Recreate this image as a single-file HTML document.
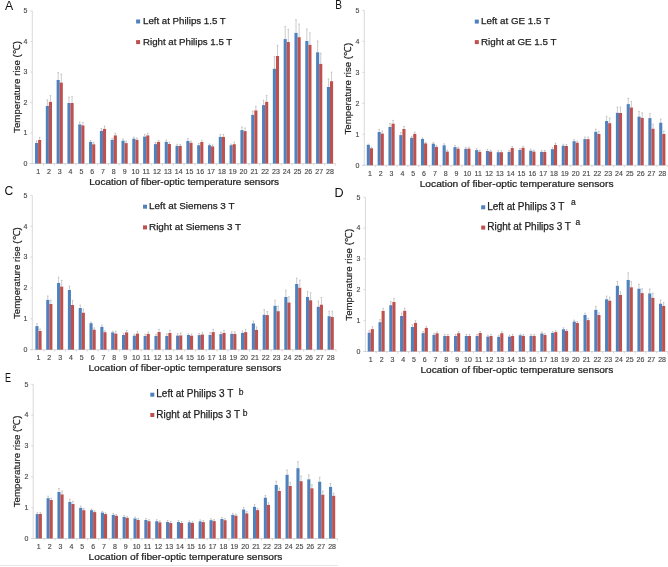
<!DOCTYPE html>
<html><head><meta charset="utf-8"><style>
html,body{margin:0;padding:0;background:#fff;width:668px;height:567px;overflow:hidden}
svg{display:block;filter:blur(0.45px)}
text{font-family:"Liberation Sans", sans-serif}
.tk{font-size:7px;fill:#4A4A4A;stroke:#4A4A4A;stroke-width:0.15px}
.lg{font-size:9.7px;fill:#1E1E1E;stroke:#1E1E1E;stroke-width:0.25px}
.sup{font-size:8.5px;fill:#1E1E1E;stroke:#1E1E1E;stroke-width:0.2px}
.xt{font-size:10px;fill:#1E1E1E;stroke:#1E1E1E;stroke-width:0.25px}
.yt{font-size:9.7px;fill:#1E1E1E;stroke:#1E1E1E;stroke-width:0.2px}
.pl{font-size:13.6px;fill:#111}
</style></head><body>
<svg width="668" height="567" viewBox="0 0 668 567">
<rect width="668" height="567" fill="#fff"/>
<line x1="32.3" y1="11" x2="32.3" y2="163.6" stroke="#D0D0D0" stroke-width="0.8"/>
<line x1="30.3" y1="163.6" x2="335.41" y2="163.6" stroke="#D0D0D0" stroke-width="0.8"/>
<line x1="30.3" y1="163.6" x2="32.3" y2="163.6" stroke="#D0D0D0" stroke-width="0.8"/>
<text x="27.4" y="165.9" text-anchor="end" class="tk">0</text>
<line x1="30.3" y1="133.08" x2="32.3" y2="133.08" stroke="#D0D0D0" stroke-width="0.8"/>
<text x="27.4" y="135.38" text-anchor="end" class="tk">1</text>
<line x1="30.3" y1="102.56" x2="32.3" y2="102.56" stroke="#D0D0D0" stroke-width="0.8"/>
<text x="27.4" y="104.86" text-anchor="end" class="tk">2</text>
<line x1="30.3" y1="72.04" x2="32.3" y2="72.04" stroke="#D0D0D0" stroke-width="0.8"/>
<text x="27.4" y="74.34" text-anchor="end" class="tk">3</text>
<line x1="30.3" y1="41.52" x2="32.3" y2="41.52" stroke="#D0D0D0" stroke-width="0.8"/>
<text x="27.4" y="43.82" text-anchor="end" class="tk">4</text>
<line x1="30.3" y1="11" x2="32.3" y2="11" stroke="#D0D0D0" stroke-width="0.8"/>
<text x="27.4" y="13.3" text-anchor="end" class="tk">5</text>
<line x1="43.51" y1="163.6" x2="43.51" y2="165.6" stroke="#D0D0D0" stroke-width="0.8"/>
<line x1="54.32" y1="163.6" x2="54.32" y2="165.6" stroke="#D0D0D0" stroke-width="0.8"/>
<line x1="65.13" y1="163.6" x2="65.13" y2="165.6" stroke="#D0D0D0" stroke-width="0.8"/>
<line x1="75.94" y1="163.6" x2="75.94" y2="165.6" stroke="#D0D0D0" stroke-width="0.8"/>
<line x1="86.75" y1="163.6" x2="86.75" y2="165.6" stroke="#D0D0D0" stroke-width="0.8"/>
<line x1="97.56" y1="163.6" x2="97.56" y2="165.6" stroke="#D0D0D0" stroke-width="0.8"/>
<line x1="108.37" y1="163.6" x2="108.37" y2="165.6" stroke="#D0D0D0" stroke-width="0.8"/>
<line x1="119.18" y1="163.6" x2="119.18" y2="165.6" stroke="#D0D0D0" stroke-width="0.8"/>
<line x1="129.99" y1="163.6" x2="129.99" y2="165.6" stroke="#D0D0D0" stroke-width="0.8"/>
<line x1="140.81" y1="163.6" x2="140.81" y2="165.6" stroke="#D0D0D0" stroke-width="0.8"/>
<line x1="151.62" y1="163.6" x2="151.62" y2="165.6" stroke="#D0D0D0" stroke-width="0.8"/>
<line x1="162.43" y1="163.6" x2="162.43" y2="165.6" stroke="#D0D0D0" stroke-width="0.8"/>
<line x1="173.24" y1="163.6" x2="173.24" y2="165.6" stroke="#D0D0D0" stroke-width="0.8"/>
<line x1="184.05" y1="163.6" x2="184.05" y2="165.6" stroke="#D0D0D0" stroke-width="0.8"/>
<line x1="194.86" y1="163.6" x2="194.86" y2="165.6" stroke="#D0D0D0" stroke-width="0.8"/>
<line x1="205.67" y1="163.6" x2="205.67" y2="165.6" stroke="#D0D0D0" stroke-width="0.8"/>
<line x1="216.48" y1="163.6" x2="216.48" y2="165.6" stroke="#D0D0D0" stroke-width="0.8"/>
<line x1="227.29" y1="163.6" x2="227.29" y2="165.6" stroke="#D0D0D0" stroke-width="0.8"/>
<line x1="238.11" y1="163.6" x2="238.11" y2="165.6" stroke="#D0D0D0" stroke-width="0.8"/>
<line x1="248.92" y1="163.6" x2="248.92" y2="165.6" stroke="#D0D0D0" stroke-width="0.8"/>
<line x1="259.73" y1="163.6" x2="259.73" y2="165.6" stroke="#D0D0D0" stroke-width="0.8"/>
<line x1="270.54" y1="163.6" x2="270.54" y2="165.6" stroke="#D0D0D0" stroke-width="0.8"/>
<line x1="281.35" y1="163.6" x2="281.35" y2="165.6" stroke="#D0D0D0" stroke-width="0.8"/>
<line x1="292.16" y1="163.6" x2="292.16" y2="165.6" stroke="#D0D0D0" stroke-width="0.8"/>
<line x1="302.97" y1="163.6" x2="302.97" y2="165.6" stroke="#D0D0D0" stroke-width="0.8"/>
<line x1="313.78" y1="163.6" x2="313.78" y2="165.6" stroke="#D0D0D0" stroke-width="0.8"/>
<line x1="324.59" y1="163.6" x2="324.59" y2="165.6" stroke="#D0D0D0" stroke-width="0.8"/>
<line x1="335.41" y1="163.6" x2="335.41" y2="165.6" stroke="#D0D0D0" stroke-width="0.8"/>
<rect x="35" y="143" width="3.1" height="20.6" fill="#4F81BD"/>
<rect x="38.1" y="140" width="3.1" height="23.6" fill="#C0504D"/>
<path d="M36.55 143V140.9M35.75 140.9H37.35" stroke="#A8A8A8" stroke-width="0.6" fill="none"/>
<path d="M39.65 140V137.4M38.85 137.4H40.45" stroke="#A8A8A8" stroke-width="0.6" fill="none"/>
<text x="38.1" y="173.9" text-anchor="middle" class="tk">1</text>
<rect x="45.81" y="105.9" width="3.1" height="57.7" fill="#4F81BD"/>
<rect x="48.91" y="101.9" width="3.1" height="61.7" fill="#C0504D"/>
<path d="M47.36 105.9V99.8M46.56 99.8H48.16" stroke="#A8A8A8" stroke-width="0.6" fill="none"/>
<path d="M50.46 101.9V95.6M49.66 95.6H51.26" stroke="#A8A8A8" stroke-width="0.6" fill="none"/>
<text x="48.91" y="173.9" text-anchor="middle" class="tk">2</text>
<rect x="56.62" y="80" width="3.1" height="83.6" fill="#4F81BD"/>
<rect x="59.72" y="82.6" width="3.1" height="81" fill="#C0504D"/>
<path d="M58.17 80V72.4M57.37 72.4H58.97" stroke="#A8A8A8" stroke-width="0.6" fill="none"/>
<path d="M61.27 82.6V74.1M60.47 74.1H62.07" stroke="#A8A8A8" stroke-width="0.6" fill="none"/>
<text x="59.72" y="173.9" text-anchor="middle" class="tk">3</text>
<rect x="67.43" y="103" width="3.1" height="60.6" fill="#4F81BD"/>
<rect x="70.53" y="103" width="3.1" height="60.6" fill="#C0504D"/>
<path d="M68.98 103V97M68.18 97H69.78" stroke="#A8A8A8" stroke-width="0.6" fill="none"/>
<path d="M72.08 103V96.7M71.28 96.7H72.88" stroke="#A8A8A8" stroke-width="0.6" fill="none"/>
<text x="70.53" y="173.9" text-anchor="middle" class="tk">4</text>
<rect x="78.24" y="124.4" width="3.1" height="39.2" fill="#4F81BD"/>
<rect x="81.34" y="125.4" width="3.1" height="38.2" fill="#C0504D"/>
<path d="M79.79 124.4V122M78.99 122H80.59" stroke="#A8A8A8" stroke-width="0.6" fill="none"/>
<path d="M82.89 125.4V122.4M82.09 122.4H83.69" stroke="#A8A8A8" stroke-width="0.6" fill="none"/>
<text x="81.34" y="173.9" text-anchor="middle" class="tk">5</text>
<rect x="89.06" y="141.9" width="3.1" height="21.7" fill="#4F81BD"/>
<rect x="92.16" y="144.3" width="3.1" height="19.3" fill="#C0504D"/>
<path d="M90.61 141.9V140.6M89.81 140.6H91.41" stroke="#A8A8A8" stroke-width="0.6" fill="none"/>
<path d="M93.71 144.3V142.4M92.91 142.4H94.51" stroke="#A8A8A8" stroke-width="0.6" fill="none"/>
<text x="92.16" y="173.9" text-anchor="middle" class="tk">6</text>
<rect x="99.87" y="130.9" width="3.1" height="32.7" fill="#4F81BD"/>
<rect x="102.97" y="128.9" width="3.1" height="34.7" fill="#C0504D"/>
<path d="M101.42 130.9V128.5M100.62 128.5H102.22" stroke="#A8A8A8" stroke-width="0.6" fill="none"/>
<path d="M104.52 128.9V126.1M103.72 126.1H105.32" stroke="#A8A8A8" stroke-width="0.6" fill="none"/>
<text x="102.97" y="173.9" text-anchor="middle" class="tk">7</text>
<rect x="110.68" y="139.9" width="3.1" height="23.7" fill="#4F81BD"/>
<rect x="113.78" y="135.4" width="3.1" height="28.2" fill="#C0504D"/>
<path d="M112.23 139.9V138.4M111.43 138.4H113.03" stroke="#A8A8A8" stroke-width="0.6" fill="none"/>
<path d="M115.33 135.4V133.2M114.53 133.2H116.13" stroke="#A8A8A8" stroke-width="0.6" fill="none"/>
<text x="113.78" y="173.9" text-anchor="middle" class="tk">8</text>
<rect x="121.49" y="140.7" width="3.1" height="22.9" fill="#4F81BD"/>
<rect x="124.59" y="143.1" width="3.1" height="20.5" fill="#C0504D"/>
<path d="M123.04 140.7V139M122.24 139H123.84" stroke="#A8A8A8" stroke-width="0.6" fill="none"/>
<path d="M126.14 143.1V141.1M125.34 141.1H126.94" stroke="#A8A8A8" stroke-width="0.6" fill="none"/>
<text x="124.59" y="173.9" text-anchor="middle" class="tk">9</text>
<rect x="132.3" y="138.7" width="3.1" height="24.9" fill="#4F81BD"/>
<rect x="135.4" y="139.9" width="3.1" height="23.7" fill="#C0504D"/>
<path d="M133.85 138.7V137.2M133.05 137.2H134.65" stroke="#A8A8A8" stroke-width="0.6" fill="none"/>
<path d="M136.95 139.9V138M136.15 138H137.75" stroke="#A8A8A8" stroke-width="0.6" fill="none"/>
<text x="135.4" y="173.9" text-anchor="middle" class="tk">10</text>
<rect x="143.11" y="136.6" width="3.1" height="27" fill="#4F81BD"/>
<rect x="146.21" y="135.4" width="3.1" height="28.2" fill="#C0504D"/>
<path d="M144.66 136.6V134.4M143.86 134.4H145.46" stroke="#A8A8A8" stroke-width="0.6" fill="none"/>
<path d="M147.76 135.4V133.2M146.96 133.2H148.56" stroke="#A8A8A8" stroke-width="0.6" fill="none"/>
<text x="146.21" y="173.9" text-anchor="middle" class="tk">11</text>
<rect x="153.92" y="144.1" width="3.1" height="19.5" fill="#4F81BD"/>
<rect x="157.02" y="141.9" width="3.1" height="21.7" fill="#C0504D"/>
<path d="M155.47 144.1V142.5M154.67 142.5H156.27" stroke="#A8A8A8" stroke-width="0.6" fill="none"/>
<path d="M158.57 141.9V140.4M157.77 140.4H159.37" stroke="#A8A8A8" stroke-width="0.6" fill="none"/>
<text x="157.02" y="173.9" text-anchor="middle" class="tk">12</text>
<rect x="164.73" y="141.9" width="3.1" height="21.7" fill="#4F81BD"/>
<rect x="167.83" y="144" width="3.1" height="19.6" fill="#C0504D"/>
<path d="M166.28 141.9V140.1M165.48 140.1H167.08" stroke="#A8A8A8" stroke-width="0.6" fill="none"/>
<path d="M169.38 144V142.3M168.58 142.3H170.18" stroke="#A8A8A8" stroke-width="0.6" fill="none"/>
<text x="167.83" y="173.9" text-anchor="middle" class="tk">13</text>
<rect x="175.54" y="145.9" width="3.1" height="17.7" fill="#4F81BD"/>
<rect x="178.64" y="145.9" width="3.1" height="17.7" fill="#C0504D"/>
<path d="M177.09 145.9V144.3M176.29 144.3H177.89" stroke="#A8A8A8" stroke-width="0.6" fill="none"/>
<path d="M180.19 145.9V144.3M179.39 144.3H180.99" stroke="#A8A8A8" stroke-width="0.6" fill="none"/>
<text x="178.64" y="173.9" text-anchor="middle" class="tk">14</text>
<rect x="186.36" y="141" width="3.1" height="22.6" fill="#4F81BD"/>
<rect x="189.46" y="142.8" width="3.1" height="20.8" fill="#C0504D"/>
<path d="M187.91 141V138.6M187.11 138.6H188.71" stroke="#A8A8A8" stroke-width="0.6" fill="none"/>
<path d="M191.01 142.8V141.1M190.21 141.1H191.81" stroke="#A8A8A8" stroke-width="0.6" fill="none"/>
<text x="189.46" y="173.9" text-anchor="middle" class="tk">15</text>
<rect x="197.17" y="145.2" width="3.1" height="18.4" fill="#4F81BD"/>
<rect x="200.27" y="142" width="3.1" height="21.6" fill="#C0504D"/>
<path d="M198.72 145.2V143.5M197.92 143.5H199.52" stroke="#A8A8A8" stroke-width="0.6" fill="none"/>
<path d="M201.82 142V140.3M201.02 140.3H202.62" stroke="#A8A8A8" stroke-width="0.6" fill="none"/>
<text x="200.27" y="173.9" text-anchor="middle" class="tk">16</text>
<rect x="207.98" y="145.2" width="3.1" height="18.4" fill="#4F81BD"/>
<rect x="211.08" y="146.4" width="3.1" height="17.2" fill="#C0504D"/>
<path d="M209.53 145.2V144M208.73 144H210.33" stroke="#A8A8A8" stroke-width="0.6" fill="none"/>
<path d="M212.63 146.4V144.9M211.83 144.9H213.43" stroke="#A8A8A8" stroke-width="0.6" fill="none"/>
<text x="211.08" y="173.9" text-anchor="middle" class="tk">17</text>
<rect x="218.79" y="136.9" width="3.1" height="26.7" fill="#4F81BD"/>
<rect x="221.89" y="136.9" width="3.1" height="26.7" fill="#C0504D"/>
<path d="M220.34 136.9V134.4M219.54 134.4H221.14" stroke="#A8A8A8" stroke-width="0.6" fill="none"/>
<path d="M223.44 136.9V134.4M222.64 134.4H224.24" stroke="#A8A8A8" stroke-width="0.6" fill="none"/>
<text x="221.89" y="173.9" text-anchor="middle" class="tk">18</text>
<rect x="229.6" y="145.2" width="3.1" height="18.4" fill="#4F81BD"/>
<rect x="232.7" y="144.2" width="3.1" height="19.4" fill="#C0504D"/>
<path d="M231.15 145.2V144.2M230.35 144.2H231.95" stroke="#A8A8A8" stroke-width="0.6" fill="none"/>
<path d="M234.25 144.2V142.1M233.45 142.1H235.05" stroke="#A8A8A8" stroke-width="0.6" fill="none"/>
<text x="232.7" y="173.9" text-anchor="middle" class="tk">19</text>
<rect x="240.41" y="130.1" width="3.1" height="33.5" fill="#4F81BD"/>
<rect x="243.51" y="131.1" width="3.1" height="32.5" fill="#C0504D"/>
<path d="M241.96 130.1V127M241.16 127H242.76" stroke="#A8A8A8" stroke-width="0.6" fill="none"/>
<path d="M245.06 131.1V128M244.26 128H245.86" stroke="#A8A8A8" stroke-width="0.6" fill="none"/>
<text x="243.51" y="173.9" text-anchor="middle" class="tk">20</text>
<rect x="251.22" y="114.9" width="3.1" height="48.7" fill="#4F81BD"/>
<rect x="254.32" y="110.4" width="3.1" height="53.2" fill="#C0504D"/>
<path d="M252.77 114.9V111.1M251.97 111.1H253.57" stroke="#A8A8A8" stroke-width="0.6" fill="none"/>
<path d="M255.87 110.4V106.2M255.07 106.2H256.67" stroke="#A8A8A8" stroke-width="0.6" fill="none"/>
<text x="254.32" y="173.9" text-anchor="middle" class="tk">21</text>
<rect x="262.03" y="105.1" width="3.1" height="58.5" fill="#4F81BD"/>
<rect x="265.13" y="101.8" width="3.1" height="61.8" fill="#C0504D"/>
<path d="M263.58 105.1V100.2M262.78 100.2H264.38" stroke="#A8A8A8" stroke-width="0.6" fill="none"/>
<path d="M266.68 101.8V95.4M265.88 95.4H267.48" stroke="#A8A8A8" stroke-width="0.6" fill="none"/>
<text x="265.13" y="173.9" text-anchor="middle" class="tk">22</text>
<rect x="272.84" y="68.8" width="3.1" height="94.8" fill="#4F81BD"/>
<rect x="275.94" y="56" width="3.1" height="107.6" fill="#C0504D"/>
<path d="M274.39 68.8V56.6M273.59 56.6H275.19" stroke="#A8A8A8" stroke-width="0.6" fill="none"/>
<path d="M277.49 56V45.3M276.69 45.3H278.29" stroke="#A8A8A8" stroke-width="0.6" fill="none"/>
<text x="275.94" y="173.9" text-anchor="middle" class="tk">23</text>
<rect x="283.66" y="39.1" width="3.1" height="124.5" fill="#4F81BD"/>
<rect x="286.76" y="42" width="3.1" height="121.6" fill="#C0504D"/>
<path d="M285.21 39.1V26.5M284.41 26.5H286.01" stroke="#A8A8A8" stroke-width="0.6" fill="none"/>
<path d="M288.31 42V29.4M287.51 29.4H289.11" stroke="#A8A8A8" stroke-width="0.6" fill="none"/>
<text x="286.76" y="173.9" text-anchor="middle" class="tk">24</text>
<rect x="294.47" y="32.9" width="3.1" height="130.7" fill="#4F81BD"/>
<rect x="297.57" y="37.2" width="3.1" height="126.4" fill="#C0504D"/>
<path d="M296.02 32.9V19.7M295.22 19.7H296.82" stroke="#A8A8A8" stroke-width="0.6" fill="none"/>
<path d="M299.12 37.2V24M298.32 24H299.92" stroke="#A8A8A8" stroke-width="0.6" fill="none"/>
<text x="297.57" y="173.9" text-anchor="middle" class="tk">25</text>
<rect x="305.28" y="41" width="3.1" height="122.6" fill="#4F81BD"/>
<rect x="308.38" y="44.9" width="3.1" height="118.7" fill="#C0504D"/>
<path d="M306.83 41V29M306.03 29H307.63" stroke="#A8A8A8" stroke-width="0.6" fill="none"/>
<path d="M309.93 44.9V32.9M309.13 32.9H310.73" stroke="#A8A8A8" stroke-width="0.6" fill="none"/>
<text x="308.38" y="173.9" text-anchor="middle" class="tk">26</text>
<rect x="316.09" y="52.3" width="3.1" height="111.3" fill="#4F81BD"/>
<rect x="319.19" y="63.9" width="3.1" height="99.7" fill="#C0504D"/>
<path d="M317.64 52.3V41M316.84 41H318.44" stroke="#A8A8A8" stroke-width="0.6" fill="none"/>
<path d="M320.74 63.9V53.1M319.94 53.1H321.54" stroke="#A8A8A8" stroke-width="0.6" fill="none"/>
<text x="319.19" y="173.9" text-anchor="middle" class="tk">27</text>
<rect x="326.9" y="87" width="3.1" height="76.6" fill="#4F81BD"/>
<rect x="330" y="81.2" width="3.1" height="82.4" fill="#C0504D"/>
<path d="M328.45 87V78.9M327.65 78.9H329.25" stroke="#A8A8A8" stroke-width="0.6" fill="none"/>
<path d="M331.55 81.2V72.1M330.75 72.1H332.35" stroke="#A8A8A8" stroke-width="0.6" fill="none"/>
<text x="330" y="173.9" text-anchor="middle" class="tk">28</text>
<rect x="136.1" y="19.5" width="4" height="4" fill="#4F81BD"/>
<rect x="136.1" y="40.1" width="4" height="4" fill="#C0504D"/>
<text x="143" y="24.4" class="lg" style="font-size:9.7px">Left at Philips 1.5 T</text>
<text x="143" y="44.9" class="lg" style="font-size:9.7px">Right at Philips 1.5 T</text>
<text transform="translate(89.3 185) scale(1 0.92)" x="0" y="0" class="xt" style="font-size:10.0px">Location of fiber-optic temperature sensors</text>
<text transform="translate(19.6 132.9) rotate(-90)" x="0" y="0" class="yt">Temperature rise (℃)</text>
<text transform="translate(4.9 9.7) scale(0.9 1)" x="0" y="0" class="pl">A</text>
<line x1="364.3" y1="10.4" x2="364.3" y2="165.3" stroke="#D0D0D0" stroke-width="0.8"/>
<line x1="362.3" y1="165.3" x2="667.71" y2="165.3" stroke="#D0D0D0" stroke-width="0.8"/>
<line x1="362.3" y1="165.3" x2="364.3" y2="165.3" stroke="#D0D0D0" stroke-width="0.8"/>
<text x="359.4" y="167.6" text-anchor="end" class="tk">0</text>
<line x1="362.3" y1="134.32" x2="364.3" y2="134.32" stroke="#D0D0D0" stroke-width="0.8"/>
<text x="359.4" y="136.62" text-anchor="end" class="tk">1</text>
<line x1="362.3" y1="103.34" x2="364.3" y2="103.34" stroke="#D0D0D0" stroke-width="0.8"/>
<text x="359.4" y="105.64" text-anchor="end" class="tk">2</text>
<line x1="362.3" y1="72.36" x2="364.3" y2="72.36" stroke="#D0D0D0" stroke-width="0.8"/>
<text x="359.4" y="74.66" text-anchor="end" class="tk">3</text>
<line x1="362.3" y1="41.38" x2="364.3" y2="41.38" stroke="#D0D0D0" stroke-width="0.8"/>
<text x="359.4" y="43.68" text-anchor="end" class="tk">4</text>
<line x1="362.3" y1="10.4" x2="364.3" y2="10.4" stroke="#D0D0D0" stroke-width="0.8"/>
<text x="359.4" y="12.7" text-anchor="end" class="tk">5</text>
<line x1="375.31" y1="165.3" x2="375.31" y2="167.3" stroke="#D0D0D0" stroke-width="0.8"/>
<line x1="386.14" y1="165.3" x2="386.14" y2="167.3" stroke="#D0D0D0" stroke-width="0.8"/>
<line x1="396.97" y1="165.3" x2="396.97" y2="167.3" stroke="#D0D0D0" stroke-width="0.8"/>
<line x1="407.8" y1="165.3" x2="407.8" y2="167.3" stroke="#D0D0D0" stroke-width="0.8"/>
<line x1="418.63" y1="165.3" x2="418.63" y2="167.3" stroke="#D0D0D0" stroke-width="0.8"/>
<line x1="429.46" y1="165.3" x2="429.46" y2="167.3" stroke="#D0D0D0" stroke-width="0.8"/>
<line x1="440.29" y1="165.3" x2="440.29" y2="167.3" stroke="#D0D0D0" stroke-width="0.8"/>
<line x1="451.12" y1="165.3" x2="451.12" y2="167.3" stroke="#D0D0D0" stroke-width="0.8"/>
<line x1="461.95" y1="165.3" x2="461.95" y2="167.3" stroke="#D0D0D0" stroke-width="0.8"/>
<line x1="472.78" y1="165.3" x2="472.78" y2="167.3" stroke="#D0D0D0" stroke-width="0.8"/>
<line x1="483.61" y1="165.3" x2="483.61" y2="167.3" stroke="#D0D0D0" stroke-width="0.8"/>
<line x1="494.44" y1="165.3" x2="494.44" y2="167.3" stroke="#D0D0D0" stroke-width="0.8"/>
<line x1="505.27" y1="165.3" x2="505.27" y2="167.3" stroke="#D0D0D0" stroke-width="0.8"/>
<line x1="516.1" y1="165.3" x2="516.1" y2="167.3" stroke="#D0D0D0" stroke-width="0.8"/>
<line x1="526.93" y1="165.3" x2="526.93" y2="167.3" stroke="#D0D0D0" stroke-width="0.8"/>
<line x1="537.76" y1="165.3" x2="537.76" y2="167.3" stroke="#D0D0D0" stroke-width="0.8"/>
<line x1="548.59" y1="165.3" x2="548.59" y2="167.3" stroke="#D0D0D0" stroke-width="0.8"/>
<line x1="559.42" y1="165.3" x2="559.42" y2="167.3" stroke="#D0D0D0" stroke-width="0.8"/>
<line x1="570.25" y1="165.3" x2="570.25" y2="167.3" stroke="#D0D0D0" stroke-width="0.8"/>
<line x1="581.08" y1="165.3" x2="581.08" y2="167.3" stroke="#D0D0D0" stroke-width="0.8"/>
<line x1="591.91" y1="165.3" x2="591.91" y2="167.3" stroke="#D0D0D0" stroke-width="0.8"/>
<line x1="602.74" y1="165.3" x2="602.74" y2="167.3" stroke="#D0D0D0" stroke-width="0.8"/>
<line x1="613.57" y1="165.3" x2="613.57" y2="167.3" stroke="#D0D0D0" stroke-width="0.8"/>
<line x1="624.4" y1="165.3" x2="624.4" y2="167.3" stroke="#D0D0D0" stroke-width="0.8"/>
<line x1="635.23" y1="165.3" x2="635.23" y2="167.3" stroke="#D0D0D0" stroke-width="0.8"/>
<line x1="646.06" y1="165.3" x2="646.06" y2="167.3" stroke="#D0D0D0" stroke-width="0.8"/>
<line x1="656.89" y1="165.3" x2="656.89" y2="167.3" stroke="#D0D0D0" stroke-width="0.8"/>
<line x1="667.71" y1="165.3" x2="667.71" y2="167.3" stroke="#D0D0D0" stroke-width="0.8"/>
<rect x="366.8" y="144.9" width="3.1" height="20.4" fill="#4F81BD"/>
<rect x="369.9" y="148.3" width="3.1" height="17" fill="#C0504D"/>
<path d="M368.35 144.9V144.1M367.55 144.1H369.15" stroke="#A8A8A8" stroke-width="0.6" fill="none"/>
<path d="M371.45 148.3V147.3M370.65 147.3H372.25" stroke="#A8A8A8" stroke-width="0.6" fill="none"/>
<text x="369.9" y="175.6" text-anchor="middle" class="tk">1</text>
<rect x="377.63" y="132" width="3.1" height="33.3" fill="#4F81BD"/>
<rect x="380.73" y="133.6" width="3.1" height="31.7" fill="#C0504D"/>
<path d="M379.18 132V129.4M378.38 129.4H379.98" stroke="#A8A8A8" stroke-width="0.6" fill="none"/>
<path d="M382.28 133.6V130.9M381.48 130.9H383.08" stroke="#A8A8A8" stroke-width="0.6" fill="none"/>
<text x="380.73" y="175.6" text-anchor="middle" class="tk">2</text>
<rect x="388.46" y="127" width="3.1" height="38.3" fill="#4F81BD"/>
<rect x="391.56" y="123.7" width="3.1" height="41.6" fill="#C0504D"/>
<path d="M390.01 127V123.4M389.21 123.4H390.81" stroke="#A8A8A8" stroke-width="0.6" fill="none"/>
<path d="M393.11 123.7V120.4M392.31 120.4H393.91" stroke="#A8A8A8" stroke-width="0.6" fill="none"/>
<text x="391.56" y="175.6" text-anchor="middle" class="tk">3</text>
<rect x="399.29" y="135.1" width="3.1" height="30.2" fill="#4F81BD"/>
<rect x="402.39" y="129" width="3.1" height="36.3" fill="#C0504D"/>
<path d="M400.84 135.1V132.4M400.04 132.4H401.64" stroke="#A8A8A8" stroke-width="0.6" fill="none"/>
<path d="M403.94 129V126.4M403.14 126.4H404.74" stroke="#A8A8A8" stroke-width="0.6" fill="none"/>
<text x="402.39" y="175.6" text-anchor="middle" class="tk">4</text>
<rect x="410.12" y="137.8" width="3.1" height="27.5" fill="#4F81BD"/>
<rect x="413.22" y="133.9" width="3.1" height="31.4" fill="#C0504D"/>
<path d="M411.67 137.8V136.3M410.87 136.3H412.47" stroke="#A8A8A8" stroke-width="0.6" fill="none"/>
<path d="M414.77 133.9V132.1M413.97 132.1H415.57" stroke="#A8A8A8" stroke-width="0.6" fill="none"/>
<text x="413.22" y="175.6" text-anchor="middle" class="tk">5</text>
<rect x="420.95" y="139" width="3.1" height="26.3" fill="#4F81BD"/>
<rect x="424.05" y="143.4" width="3.1" height="21.9" fill="#C0504D"/>
<path d="M422.5 139V137.8M421.7 137.8H423.3" stroke="#A8A8A8" stroke-width="0.6" fill="none"/>
<path d="M425.6 143.4V142.3M424.8 142.3H426.4" stroke="#A8A8A8" stroke-width="0.6" fill="none"/>
<text x="424.05" y="175.6" text-anchor="middle" class="tk">6</text>
<rect x="431.78" y="143.7" width="3.1" height="21.6" fill="#4F81BD"/>
<rect x="434.88" y="146.9" width="3.1" height="18.4" fill="#C0504D"/>
<path d="M433.33 143.7V142.5M432.53 142.5H434.13" stroke="#A8A8A8" stroke-width="0.6" fill="none"/>
<path d="M436.43 146.9V145.5M435.63 145.5H437.23" stroke="#A8A8A8" stroke-width="0.6" fill="none"/>
<text x="434.88" y="175.6" text-anchor="middle" class="tk">7</text>
<rect x="442.61" y="145.3" width="3.1" height="20" fill="#4F81BD"/>
<rect x="445.71" y="151.6" width="3.1" height="13.7" fill="#C0504D"/>
<path d="M444.16 145.3V143.8M443.36 143.8H444.96" stroke="#A8A8A8" stroke-width="0.6" fill="none"/>
<path d="M447.26 151.6V150.1M446.46 150.1H448.06" stroke="#A8A8A8" stroke-width="0.6" fill="none"/>
<text x="445.71" y="175.6" text-anchor="middle" class="tk">8</text>
<rect x="453.44" y="147.1" width="3.1" height="18.2" fill="#4F81BD"/>
<rect x="456.54" y="148.6" width="3.1" height="16.7" fill="#C0504D"/>
<path d="M454.99 147.1V145.6M454.19 145.6H455.79" stroke="#A8A8A8" stroke-width="0.6" fill="none"/>
<path d="M458.09 148.6V147.1M457.29 147.1H458.89" stroke="#A8A8A8" stroke-width="0.6" fill="none"/>
<text x="456.54" y="175.6" text-anchor="middle" class="tk">9</text>
<rect x="464.27" y="148.8" width="3.1" height="16.5" fill="#4F81BD"/>
<rect x="467.37" y="148.6" width="3.1" height="16.7" fill="#C0504D"/>
<path d="M465.82 148.8V147.3M465.02 147.3H466.62" stroke="#A8A8A8" stroke-width="0.6" fill="none"/>
<path d="M468.92 148.6V147.1M468.12 147.1H469.72" stroke="#A8A8A8" stroke-width="0.6" fill="none"/>
<text x="467.37" y="175.6" text-anchor="middle" class="tk">10</text>
<rect x="475.1" y="150.1" width="3.1" height="15.2" fill="#4F81BD"/>
<rect x="478.2" y="151.8" width="3.1" height="13.5" fill="#C0504D"/>
<path d="M476.65 150.1V148.6M475.85 148.6H477.45" stroke="#A8A8A8" stroke-width="0.6" fill="none"/>
<path d="M479.75 151.8V150.3M478.95 150.3H480.55" stroke="#A8A8A8" stroke-width="0.6" fill="none"/>
<text x="478.2" y="175.6" text-anchor="middle" class="tk">11</text>
<rect x="485.93" y="151" width="3.1" height="14.3" fill="#4F81BD"/>
<rect x="489.03" y="151.6" width="3.1" height="13.7" fill="#C0504D"/>
<path d="M487.48 151V149.5M486.68 149.5H488.28" stroke="#A8A8A8" stroke-width="0.6" fill="none"/>
<path d="M490.58 151.6V150.1M489.78 150.1H491.38" stroke="#A8A8A8" stroke-width="0.6" fill="none"/>
<text x="489.03" y="175.6" text-anchor="middle" class="tk">12</text>
<rect x="496.76" y="152.2" width="3.1" height="13.1" fill="#4F81BD"/>
<rect x="499.86" y="152.2" width="3.1" height="13.1" fill="#C0504D"/>
<path d="M498.31 152.2V150.7M497.51 150.7H499.11" stroke="#A8A8A8" stroke-width="0.6" fill="none"/>
<path d="M501.41 152.2V150.7M500.61 150.7H502.21" stroke="#A8A8A8" stroke-width="0.6" fill="none"/>
<text x="499.86" y="175.6" text-anchor="middle" class="tk">13</text>
<rect x="507.59" y="151.9" width="3.1" height="13.4" fill="#4F81BD"/>
<rect x="510.69" y="148" width="3.1" height="17.3" fill="#C0504D"/>
<path d="M509.14 151.9V150.4M508.34 150.4H509.94" stroke="#A8A8A8" stroke-width="0.6" fill="none"/>
<path d="M512.24 148V146.5M511.44 146.5H513.04" stroke="#A8A8A8" stroke-width="0.6" fill="none"/>
<text x="510.69" y="175.6" text-anchor="middle" class="tk">14</text>
<rect x="518.41" y="149.9" width="3.1" height="15.4" fill="#4F81BD"/>
<rect x="521.51" y="147.8" width="3.1" height="17.5" fill="#C0504D"/>
<path d="M519.96 149.9V148.4M519.16 148.4H520.76" stroke="#A8A8A8" stroke-width="0.6" fill="none"/>
<path d="M523.06 147.8V146.3M522.26 146.3H523.86" stroke="#A8A8A8" stroke-width="0.6" fill="none"/>
<text x="521.51" y="175.6" text-anchor="middle" class="tk">15</text>
<rect x="529.24" y="150.7" width="3.1" height="14.6" fill="#4F81BD"/>
<rect x="532.34" y="151.6" width="3.1" height="13.7" fill="#C0504D"/>
<path d="M530.79 150.7V149.2M529.99 149.2H531.59" stroke="#A8A8A8" stroke-width="0.6" fill="none"/>
<path d="M533.89 151.6V150.1M533.09 150.1H534.69" stroke="#A8A8A8" stroke-width="0.6" fill="none"/>
<text x="532.34" y="175.6" text-anchor="middle" class="tk">16</text>
<rect x="540.07" y="151.9" width="3.1" height="13.4" fill="#4F81BD"/>
<rect x="543.17" y="151.9" width="3.1" height="13.4" fill="#C0504D"/>
<path d="M541.62 151.9V150.4M540.82 150.4H542.42" stroke="#A8A8A8" stroke-width="0.6" fill="none"/>
<path d="M544.72 151.9V150.4M543.92 150.4H545.52" stroke="#A8A8A8" stroke-width="0.6" fill="none"/>
<text x="543.17" y="175.6" text-anchor="middle" class="tk">17</text>
<rect x="550.9" y="149.2" width="3.1" height="16.1" fill="#4F81BD"/>
<rect x="554" y="145" width="3.1" height="20.3" fill="#C0504D"/>
<path d="M552.45 149.2V147.7M551.65 147.7H553.25" stroke="#A8A8A8" stroke-width="0.6" fill="none"/>
<path d="M555.55 145V143.2M554.75 143.2H556.35" stroke="#A8A8A8" stroke-width="0.6" fill="none"/>
<text x="554" y="175.6" text-anchor="middle" class="tk">18</text>
<rect x="561.73" y="145.7" width="3.1" height="19.6" fill="#4F81BD"/>
<rect x="564.83" y="146" width="3.1" height="19.3" fill="#C0504D"/>
<path d="M563.28 145.7V144.2M562.48 144.2H564.08" stroke="#A8A8A8" stroke-width="0.6" fill="none"/>
<path d="M566.38 146V144.5M565.58 144.5H567.18" stroke="#A8A8A8" stroke-width="0.6" fill="none"/>
<text x="564.83" y="175.6" text-anchor="middle" class="tk">19</text>
<rect x="572.56" y="141.2" width="3.1" height="24.1" fill="#4F81BD"/>
<rect x="575.66" y="142.7" width="3.1" height="22.6" fill="#C0504D"/>
<path d="M574.11 141.2V139.6M573.31 139.6H574.91" stroke="#A8A8A8" stroke-width="0.6" fill="none"/>
<path d="M577.21 142.7V141.2M576.41 141.2H578.01" stroke="#A8A8A8" stroke-width="0.6" fill="none"/>
<text x="575.66" y="175.6" text-anchor="middle" class="tk">20</text>
<rect x="583.39" y="139.1" width="3.1" height="26.2" fill="#4F81BD"/>
<rect x="586.49" y="139.1" width="3.1" height="26.2" fill="#C0504D"/>
<path d="M584.94 139.1V137M584.14 137H585.74" stroke="#A8A8A8" stroke-width="0.6" fill="none"/>
<path d="M588.04 139.1V137M587.24 137H588.84" stroke="#A8A8A8" stroke-width="0.6" fill="none"/>
<text x="586.49" y="175.6" text-anchor="middle" class="tk">21</text>
<rect x="594.22" y="131.8" width="3.1" height="33.5" fill="#4F81BD"/>
<rect x="597.32" y="134" width="3.1" height="31.3" fill="#C0504D"/>
<path d="M595.77 131.8V129.1M594.97 129.1H596.57" stroke="#A8A8A8" stroke-width="0.6" fill="none"/>
<path d="M598.87 134V131.2M598.07 131.2H599.67" stroke="#A8A8A8" stroke-width="0.6" fill="none"/>
<text x="597.32" y="175.6" text-anchor="middle" class="tk">22</text>
<rect x="605.05" y="121" width="3.1" height="44.3" fill="#4F81BD"/>
<rect x="608.15" y="123.2" width="3.1" height="42.1" fill="#C0504D"/>
<path d="M606.6 121V116.3M605.8 116.3H607.4" stroke="#A8A8A8" stroke-width="0.6" fill="none"/>
<path d="M609.7 123.2V117.9M608.9 117.9H610.5" stroke="#A8A8A8" stroke-width="0.6" fill="none"/>
<text x="608.15" y="175.6" text-anchor="middle" class="tk">23</text>
<rect x="615.88" y="112.8" width="3.1" height="52.5" fill="#4F81BD"/>
<rect x="618.98" y="113" width="3.1" height="52.3" fill="#C0504D"/>
<path d="M617.43 112.8V107.1M616.63 107.1H618.23" stroke="#A8A8A8" stroke-width="0.6" fill="none"/>
<path d="M620.53 113V107.1M619.73 107.1H621.33" stroke="#A8A8A8" stroke-width="0.6" fill="none"/>
<text x="618.98" y="175.6" text-anchor="middle" class="tk">24</text>
<rect x="626.71" y="104.1" width="3.1" height="61.2" fill="#4F81BD"/>
<rect x="629.81" y="107.5" width="3.1" height="57.8" fill="#C0504D"/>
<path d="M628.26 104.1V98.2M627.46 98.2H629.06" stroke="#A8A8A8" stroke-width="0.6" fill="none"/>
<path d="M631.36 107.5V101.4M630.56 101.4H632.16" stroke="#A8A8A8" stroke-width="0.6" fill="none"/>
<text x="629.81" y="175.6" text-anchor="middle" class="tk">25</text>
<rect x="637.54" y="116.6" width="3.1" height="48.7" fill="#4F81BD"/>
<rect x="640.64" y="117.9" width="3.1" height="47.4" fill="#C0504D"/>
<path d="M639.09 116.6V111.3M638.29 111.3H639.89" stroke="#A8A8A8" stroke-width="0.6" fill="none"/>
<path d="M642.19 117.9V112.8M641.39 112.8H642.99" stroke="#A8A8A8" stroke-width="0.6" fill="none"/>
<text x="640.64" y="175.6" text-anchor="middle" class="tk">26</text>
<rect x="648.37" y="118.1" width="3.1" height="47.2" fill="#4F81BD"/>
<rect x="651.47" y="128.7" width="3.1" height="36.6" fill="#C0504D"/>
<path d="M649.92 118.1V113.4M649.12 113.4H650.72" stroke="#A8A8A8" stroke-width="0.6" fill="none"/>
<path d="M653.02 128.7V124.2M652.22 124.2H653.82" stroke="#A8A8A8" stroke-width="0.6" fill="none"/>
<text x="651.47" y="175.6" text-anchor="middle" class="tk">27</text>
<rect x="659.2" y="122.7" width="3.1" height="42.6" fill="#4F81BD"/>
<rect x="662.3" y="134" width="3.1" height="31.3" fill="#C0504D"/>
<path d="M660.75 122.7V119.1M659.95 119.1H661.55" stroke="#A8A8A8" stroke-width="0.6" fill="none"/>
<path d="M663.85 134V131M663.05 131H664.65" stroke="#A8A8A8" stroke-width="0.6" fill="none"/>
<text x="662.3" y="175.6" text-anchor="middle" class="tk">28</text>
<rect x="474.8" y="19.6" width="4" height="4" fill="#4F81BD"/>
<rect x="474.8" y="40.1" width="4" height="4" fill="#C0504D"/>
<text x="481" y="24.4" class="lg" style="font-size:9.8px">Left at GE 1.5 T</text>
<text x="481" y="44.9" class="lg" style="font-size:9.8px">Right at GE 1.5 T</text>
<text transform="translate(419.7 187) scale(1 0.92)" x="0" y="0" class="xt" style="font-size:10.2px">Location of fiber-optic temperature sensors</text>
<text transform="translate(351.3 134.5) rotate(-90)" x="0" y="0" class="yt">Temperature rise (℃)</text>
<text transform="translate(335.3 9.3) scale(0.74 1)" x="0" y="0" class="pl">B</text>
<line x1="32.3" y1="195.4" x2="32.3" y2="349.7" stroke="#D0D0D0" stroke-width="0.8"/>
<line x1="30.3" y1="349.7" x2="336.11" y2="349.7" stroke="#D0D0D0" stroke-width="0.8"/>
<line x1="30.3" y1="349.7" x2="32.3" y2="349.7" stroke="#D0D0D0" stroke-width="0.8"/>
<text x="27.4" y="352" text-anchor="end" class="tk">0</text>
<line x1="30.3" y1="318.84" x2="32.3" y2="318.84" stroke="#D0D0D0" stroke-width="0.8"/>
<text x="27.4" y="321.14" text-anchor="end" class="tk">1</text>
<line x1="30.3" y1="287.98" x2="32.3" y2="287.98" stroke="#D0D0D0" stroke-width="0.8"/>
<text x="27.4" y="290.28" text-anchor="end" class="tk">2</text>
<line x1="30.3" y1="257.12" x2="32.3" y2="257.12" stroke="#D0D0D0" stroke-width="0.8"/>
<text x="27.4" y="259.42" text-anchor="end" class="tk">3</text>
<line x1="30.3" y1="226.26" x2="32.3" y2="226.26" stroke="#D0D0D0" stroke-width="0.8"/>
<text x="27.4" y="228.56" text-anchor="end" class="tk">4</text>
<line x1="30.3" y1="195.4" x2="32.3" y2="195.4" stroke="#D0D0D0" stroke-width="0.8"/>
<text x="27.4" y="197.7" text-anchor="end" class="tk">5</text>
<line x1="43.91" y1="349.7" x2="43.91" y2="351.7" stroke="#D0D0D0" stroke-width="0.8"/>
<line x1="54.73" y1="349.7" x2="54.73" y2="351.7" stroke="#D0D0D0" stroke-width="0.8"/>
<line x1="65.56" y1="349.7" x2="65.56" y2="351.7" stroke="#D0D0D0" stroke-width="0.8"/>
<line x1="76.38" y1="349.7" x2="76.38" y2="351.7" stroke="#D0D0D0" stroke-width="0.8"/>
<line x1="87.2" y1="349.7" x2="87.2" y2="351.7" stroke="#D0D0D0" stroke-width="0.8"/>
<line x1="98.02" y1="349.7" x2="98.02" y2="351.7" stroke="#D0D0D0" stroke-width="0.8"/>
<line x1="108.84" y1="349.7" x2="108.84" y2="351.7" stroke="#D0D0D0" stroke-width="0.8"/>
<line x1="119.67" y1="349.7" x2="119.67" y2="351.7" stroke="#D0D0D0" stroke-width="0.8"/>
<line x1="130.49" y1="349.7" x2="130.49" y2="351.7" stroke="#D0D0D0" stroke-width="0.8"/>
<line x1="141.31" y1="349.7" x2="141.31" y2="351.7" stroke="#D0D0D0" stroke-width="0.8"/>
<line x1="152.13" y1="349.7" x2="152.13" y2="351.7" stroke="#D0D0D0" stroke-width="0.8"/>
<line x1="162.96" y1="349.7" x2="162.96" y2="351.7" stroke="#D0D0D0" stroke-width="0.8"/>
<line x1="173.78" y1="349.7" x2="173.78" y2="351.7" stroke="#D0D0D0" stroke-width="0.8"/>
<line x1="184.6" y1="349.7" x2="184.6" y2="351.7" stroke="#D0D0D0" stroke-width="0.8"/>
<line x1="195.42" y1="349.7" x2="195.42" y2="351.7" stroke="#D0D0D0" stroke-width="0.8"/>
<line x1="206.24" y1="349.7" x2="206.24" y2="351.7" stroke="#D0D0D0" stroke-width="0.8"/>
<line x1="217.07" y1="349.7" x2="217.07" y2="351.7" stroke="#D0D0D0" stroke-width="0.8"/>
<line x1="227.89" y1="349.7" x2="227.89" y2="351.7" stroke="#D0D0D0" stroke-width="0.8"/>
<line x1="238.71" y1="349.7" x2="238.71" y2="351.7" stroke="#D0D0D0" stroke-width="0.8"/>
<line x1="249.53" y1="349.7" x2="249.53" y2="351.7" stroke="#D0D0D0" stroke-width="0.8"/>
<line x1="260.36" y1="349.7" x2="260.36" y2="351.7" stroke="#D0D0D0" stroke-width="0.8"/>
<line x1="271.18" y1="349.7" x2="271.18" y2="351.7" stroke="#D0D0D0" stroke-width="0.8"/>
<line x1="282" y1="349.7" x2="282" y2="351.7" stroke="#D0D0D0" stroke-width="0.8"/>
<line x1="292.82" y1="349.7" x2="292.82" y2="351.7" stroke="#D0D0D0" stroke-width="0.8"/>
<line x1="303.64" y1="349.7" x2="303.64" y2="351.7" stroke="#D0D0D0" stroke-width="0.8"/>
<line x1="314.47" y1="349.7" x2="314.47" y2="351.7" stroke="#D0D0D0" stroke-width="0.8"/>
<line x1="325.29" y1="349.7" x2="325.29" y2="351.7" stroke="#D0D0D0" stroke-width="0.8"/>
<line x1="336.11" y1="349.7" x2="336.11" y2="351.7" stroke="#D0D0D0" stroke-width="0.8"/>
<rect x="35.4" y="326.1" width="3.1" height="23.6" fill="#4F81BD"/>
<rect x="38.5" y="331" width="3.1" height="18.7" fill="#C0504D"/>
<path d="M36.95 326.1V323.8M36.15 323.8H37.75" stroke="#A8A8A8" stroke-width="0.6" fill="none"/>
<path d="M40.05 331V329M39.25 329H40.85" stroke="#A8A8A8" stroke-width="0.6" fill="none"/>
<text x="38.5" y="360" text-anchor="middle" class="tk">1</text>
<rect x="46.22" y="299.9" width="3.1" height="49.8" fill="#4F81BD"/>
<rect x="49.32" y="304" width="3.1" height="45.7" fill="#C0504D"/>
<path d="M47.77 299.9V296M46.97 296H48.57" stroke="#A8A8A8" stroke-width="0.6" fill="none"/>
<path d="M50.87 304V300.1M50.07 300.1H51.67" stroke="#A8A8A8" stroke-width="0.6" fill="none"/>
<text x="49.32" y="360" text-anchor="middle" class="tk">2</text>
<rect x="57.04" y="283" width="3.1" height="66.7" fill="#4F81BD"/>
<rect x="60.14" y="286.6" width="3.1" height="63.1" fill="#C0504D"/>
<path d="M58.59 283V277.2M57.79 277.2H59.39" stroke="#A8A8A8" stroke-width="0.6" fill="none"/>
<path d="M61.69 286.6V280.4M60.89 280.4H62.49" stroke="#A8A8A8" stroke-width="0.6" fill="none"/>
<text x="60.14" y="360" text-anchor="middle" class="tk">3</text>
<rect x="67.87" y="290" width="3.1" height="59.7" fill="#4F81BD"/>
<rect x="70.97" y="305" width="3.1" height="44.7" fill="#C0504D"/>
<path d="M69.42 290V286.2M68.62 286.2H70.22" stroke="#A8A8A8" stroke-width="0.6" fill="none"/>
<path d="M72.52 305V300.4M71.72 300.4H73.32" stroke="#A8A8A8" stroke-width="0.6" fill="none"/>
<text x="70.97" y="360" text-anchor="middle" class="tk">4</text>
<rect x="78.69" y="308" width="3.1" height="41.7" fill="#4F81BD"/>
<rect x="81.79" y="312.7" width="3.1" height="37" fill="#C0504D"/>
<path d="M80.24 308V305M79.44 305H81.04" stroke="#A8A8A8" stroke-width="0.6" fill="none"/>
<path d="M83.34 312.7V309.1M82.54 309.1H84.14" stroke="#A8A8A8" stroke-width="0.6" fill="none"/>
<text x="81.79" y="360" text-anchor="middle" class="tk">5</text>
<rect x="89.51" y="323.2" width="3.1" height="26.5" fill="#4F81BD"/>
<rect x="92.61" y="329.7" width="3.1" height="20" fill="#C0504D"/>
<path d="M91.06 323.2V322M90.26 322H91.86" stroke="#A8A8A8" stroke-width="0.6" fill="none"/>
<path d="M94.16 329.7V327.9M93.36 327.9H94.96" stroke="#A8A8A8" stroke-width="0.6" fill="none"/>
<text x="92.61" y="360" text-anchor="middle" class="tk">6</text>
<rect x="100.33" y="326.9" width="3.1" height="22.8" fill="#4F81BD"/>
<rect x="103.43" y="332.2" width="3.1" height="17.5" fill="#C0504D"/>
<path d="M101.88 326.9V325M101.08 325H102.68" stroke="#A8A8A8" stroke-width="0.6" fill="none"/>
<path d="M104.98 332.2V330.8M104.18 330.8H105.78" stroke="#A8A8A8" stroke-width="0.6" fill="none"/>
<text x="103.43" y="360" text-anchor="middle" class="tk">7</text>
<rect x="111.16" y="332.4" width="3.1" height="17.3" fill="#4F81BD"/>
<rect x="114.26" y="333.6" width="3.1" height="16.1" fill="#C0504D"/>
<path d="M112.71 332.4V331.2M111.91 331.2H113.51" stroke="#A8A8A8" stroke-width="0.6" fill="none"/>
<path d="M115.81 333.6V331.2M115.01 331.2H116.61" stroke="#A8A8A8" stroke-width="0.6" fill="none"/>
<text x="114.26" y="360" text-anchor="middle" class="tk">8</text>
<rect x="121.98" y="335" width="3.1" height="14.7" fill="#4F81BD"/>
<rect x="125.08" y="332.4" width="3.1" height="17.3" fill="#C0504D"/>
<path d="M123.53 335V333.6M122.73 333.6H124.33" stroke="#A8A8A8" stroke-width="0.6" fill="none"/>
<path d="M126.63 332.4V330.3M125.83 330.3H127.43" stroke="#A8A8A8" stroke-width="0.6" fill="none"/>
<text x="125.08" y="360" text-anchor="middle" class="tk">9</text>
<rect x="132.8" y="335.7" width="3.1" height="14" fill="#4F81BD"/>
<rect x="135.9" y="333.6" width="3.1" height="16.1" fill="#C0504D"/>
<path d="M134.35 335.7V334.2M133.55 334.2H135.15" stroke="#A8A8A8" stroke-width="0.6" fill="none"/>
<path d="M137.45 333.6V331.5M136.65 331.5H138.25" stroke="#A8A8A8" stroke-width="0.6" fill="none"/>
<text x="135.9" y="360" text-anchor="middle" class="tk">10</text>
<rect x="143.62" y="336" width="3.1" height="13.7" fill="#4F81BD"/>
<rect x="146.72" y="333.9" width="3.1" height="15.8" fill="#C0504D"/>
<path d="M145.17 336V334.2M144.37 334.2H145.97" stroke="#A8A8A8" stroke-width="0.6" fill="none"/>
<path d="M148.27 333.9V332M147.47 332H149.07" stroke="#A8A8A8" stroke-width="0.6" fill="none"/>
<text x="146.72" y="360" text-anchor="middle" class="tk">11</text>
<rect x="154.44" y="336" width="3.1" height="13.7" fill="#4F81BD"/>
<rect x="157.54" y="332" width="3.1" height="17.7" fill="#C0504D"/>
<path d="M155.99 336V334.2M155.19 334.2H156.79" stroke="#A8A8A8" stroke-width="0.6" fill="none"/>
<path d="M159.09 332V329.4M158.29 329.4H159.89" stroke="#A8A8A8" stroke-width="0.6" fill="none"/>
<text x="157.54" y="360" text-anchor="middle" class="tk">12</text>
<rect x="165.27" y="336" width="3.1" height="13.7" fill="#4F81BD"/>
<rect x="168.37" y="333" width="3.1" height="16.7" fill="#C0504D"/>
<path d="M166.82 336V333.9M166.02 333.9H167.62" stroke="#A8A8A8" stroke-width="0.6" fill="none"/>
<path d="M169.92 333V330.3M169.12 330.3H170.72" stroke="#A8A8A8" stroke-width="0.6" fill="none"/>
<text x="168.37" y="360" text-anchor="middle" class="tk">13</text>
<rect x="176.09" y="335.6" width="3.1" height="14.1" fill="#4F81BD"/>
<rect x="179.19" y="335.4" width="3.1" height="14.3" fill="#C0504D"/>
<path d="M177.64 335.6V333.6M176.84 333.6H178.44" stroke="#A8A8A8" stroke-width="0.6" fill="none"/>
<path d="M180.74 335.4V333M179.94 333H181.54" stroke="#A8A8A8" stroke-width="0.6" fill="none"/>
<text x="179.19" y="360" text-anchor="middle" class="tk">14</text>
<rect x="186.91" y="335" width="3.1" height="14.7" fill="#4F81BD"/>
<rect x="190.01" y="335.7" width="3.1" height="14" fill="#C0504D"/>
<path d="M188.46 335V333.8M187.66 333.8H189.26" stroke="#A8A8A8" stroke-width="0.6" fill="none"/>
<path d="M191.56 335.7V334.1M190.76 334.1H192.36" stroke="#A8A8A8" stroke-width="0.6" fill="none"/>
<text x="190.01" y="360" text-anchor="middle" class="tk">15</text>
<rect x="197.73" y="335.1" width="3.1" height="14.6" fill="#4F81BD"/>
<rect x="200.83" y="334.5" width="3.1" height="15.2" fill="#C0504D"/>
<path d="M199.28 335.1V333.5M198.48 333.5H200.08" stroke="#A8A8A8" stroke-width="0.6" fill="none"/>
<path d="M202.38 334.5V332.6M201.58 332.6H203.18" stroke="#A8A8A8" stroke-width="0.6" fill="none"/>
<text x="200.83" y="360" text-anchor="middle" class="tk">16</text>
<rect x="208.56" y="335" width="3.1" height="14.7" fill="#4F81BD"/>
<rect x="211.66" y="332.1" width="3.1" height="17.6" fill="#C0504D"/>
<path d="M210.11 335V332.6M209.31 332.6H210.91" stroke="#A8A8A8" stroke-width="0.6" fill="none"/>
<path d="M213.21 332.1V329.3M212.41 329.3H214.01" stroke="#A8A8A8" stroke-width="0.6" fill="none"/>
<text x="211.66" y="360" text-anchor="middle" class="tk">17</text>
<rect x="219.38" y="334.1" width="3.1" height="15.6" fill="#4F81BD"/>
<rect x="222.48" y="332.9" width="3.1" height="16.8" fill="#C0504D"/>
<path d="M220.93 334.1V332.1M220.13 332.1H221.73" stroke="#A8A8A8" stroke-width="0.6" fill="none"/>
<path d="M224.03 332.9V330.5M223.23 330.5H224.83" stroke="#A8A8A8" stroke-width="0.6" fill="none"/>
<text x="222.48" y="360" text-anchor="middle" class="tk">18</text>
<rect x="230.2" y="333.8" width="3.1" height="15.9" fill="#4F81BD"/>
<rect x="233.3" y="333.9" width="3.1" height="15.8" fill="#C0504D"/>
<path d="M231.75 333.8V331.7M230.95 331.7H232.55" stroke="#A8A8A8" stroke-width="0.6" fill="none"/>
<path d="M234.85 333.9V331.7M234.05 331.7H235.65" stroke="#A8A8A8" stroke-width="0.6" fill="none"/>
<text x="233.3" y="360" text-anchor="middle" class="tk">19</text>
<rect x="241.02" y="332.9" width="3.1" height="16.8" fill="#4F81BD"/>
<rect x="244.12" y="332.1" width="3.1" height="17.6" fill="#C0504D"/>
<path d="M242.57 332.9V330.9M241.77 330.9H243.37" stroke="#A8A8A8" stroke-width="0.6" fill="none"/>
<path d="M245.67 332.1V329.3M244.87 329.3H246.47" stroke="#A8A8A8" stroke-width="0.6" fill="none"/>
<text x="244.12" y="360" text-anchor="middle" class="tk">20</text>
<rect x="251.84" y="323.4" width="3.1" height="26.3" fill="#4F81BD"/>
<rect x="254.94" y="329.9" width="3.1" height="19.8" fill="#C0504D"/>
<path d="M253.39 323.4V321M252.59 321H254.19" stroke="#A8A8A8" stroke-width="0.6" fill="none"/>
<path d="M256.49 329.9V326.9M255.69 326.9H257.29" stroke="#A8A8A8" stroke-width="0.6" fill="none"/>
<text x="254.94" y="360" text-anchor="middle" class="tk">21</text>
<rect x="262.67" y="314.8" width="3.1" height="34.9" fill="#4F81BD"/>
<rect x="265.77" y="315.1" width="3.1" height="34.6" fill="#C0504D"/>
<path d="M264.22 314.8V309.7M263.42 309.7H265.02" stroke="#A8A8A8" stroke-width="0.6" fill="none"/>
<path d="M267.32 315.1V311.6M266.52 311.6H268.12" stroke="#A8A8A8" stroke-width="0.6" fill="none"/>
<text x="265.77" y="360" text-anchor="middle" class="tk">22</text>
<rect x="273.49" y="305.8" width="3.1" height="43.9" fill="#4F81BD"/>
<rect x="276.59" y="311.2" width="3.1" height="38.5" fill="#C0504D"/>
<path d="M275.04 305.8V300.3M274.24 300.3H275.84" stroke="#A8A8A8" stroke-width="0.6" fill="none"/>
<path d="M278.14 311.2V306.1M277.34 306.1H278.94" stroke="#A8A8A8" stroke-width="0.6" fill="none"/>
<text x="276.59" y="360" text-anchor="middle" class="tk">23</text>
<rect x="284.31" y="297" width="3.1" height="52.7" fill="#4F81BD"/>
<rect x="287.41" y="302.5" width="3.1" height="47.2" fill="#C0504D"/>
<path d="M285.86 297V290.2M285.06 290.2H286.66" stroke="#A8A8A8" stroke-width="0.6" fill="none"/>
<path d="M288.96 302.5V296.7M288.16 296.7H289.76" stroke="#A8A8A8" stroke-width="0.6" fill="none"/>
<text x="287.41" y="360" text-anchor="middle" class="tk">24</text>
<rect x="295.13" y="284" width="3.1" height="65.7" fill="#4F81BD"/>
<rect x="298.23" y="287.8" width="3.1" height="61.9" fill="#C0504D"/>
<path d="M296.68 284V278.2M295.88 278.2H297.48" stroke="#A8A8A8" stroke-width="0.6" fill="none"/>
<path d="M299.78 287.8V280.1M298.98 280.1H300.58" stroke="#A8A8A8" stroke-width="0.6" fill="none"/>
<text x="298.23" y="360" text-anchor="middle" class="tk">25</text>
<rect x="305.96" y="297" width="3.1" height="52.7" fill="#4F81BD"/>
<rect x="309.06" y="300.3" width="3.1" height="49.4" fill="#C0504D"/>
<path d="M307.51 297V291.4M306.71 291.4H308.31" stroke="#A8A8A8" stroke-width="0.6" fill="none"/>
<path d="M310.61 300.3V292.8M309.81 292.8H311.41" stroke="#A8A8A8" stroke-width="0.6" fill="none"/>
<text x="309.06" y="360" text-anchor="middle" class="tk">26</text>
<rect x="316.78" y="306.8" width="3.1" height="42.9" fill="#4F81BD"/>
<rect x="319.88" y="304.7" width="3.1" height="45" fill="#C0504D"/>
<path d="M318.33 306.8V301.1M317.53 301.1H319.13" stroke="#A8A8A8" stroke-width="0.6" fill="none"/>
<path d="M321.43 304.7V297.5M320.63 297.5H322.23" stroke="#A8A8A8" stroke-width="0.6" fill="none"/>
<text x="319.88" y="360" text-anchor="middle" class="tk">27</text>
<rect x="327.6" y="316.2" width="3.1" height="33.5" fill="#4F81BD"/>
<rect x="330.7" y="317" width="3.1" height="32.7" fill="#C0504D"/>
<path d="M329.15 316.2V311.2M328.35 311.2H329.95" stroke="#A8A8A8" stroke-width="0.6" fill="none"/>
<path d="M332.25 317V311.2M331.45 311.2H333.05" stroke="#A8A8A8" stroke-width="0.6" fill="none"/>
<text x="330.7" y="360" text-anchor="middle" class="tk">28</text>
<rect x="143" y="204.7" width="4" height="4" fill="#4F81BD"/>
<rect x="143" y="225.4" width="4" height="4" fill="#C0504D"/>
<text x="149" y="209.4" class="lg" style="font-size:9.9px">Left at Siemens 3 T</text>
<text x="149" y="229.9" class="lg" style="font-size:9.9px">Right at Siemens 3 T</text>
<text transform="translate(88.4 371.3) scale(1 0.92)" x="0" y="0" class="xt" style="font-size:10.15px">Location of fiber-optic temperature sensors</text>
<text transform="translate(19.6 319) rotate(-90)" x="0" y="0" class="yt">Temperature rise (℃)</text>
<text transform="translate(4.5 195.2) scale(0.89 1)" x="0" y="0" class="pl">C</text>
<line x1="365.4" y1="197.2" x2="365.4" y2="351.5" stroke="#D0D0D0" stroke-width="0.8"/>
<line x1="363.4" y1="351.5" x2="667.49" y2="351.5" stroke="#D0D0D0" stroke-width="0.8"/>
<line x1="363.4" y1="351.5" x2="365.4" y2="351.5" stroke="#D0D0D0" stroke-width="0.8"/>
<text x="360.5" y="353.8" text-anchor="end" class="tk">0</text>
<line x1="363.4" y1="320.64" x2="365.4" y2="320.64" stroke="#D0D0D0" stroke-width="0.8"/>
<text x="360.5" y="322.94" text-anchor="end" class="tk">1</text>
<line x1="363.4" y1="289.78" x2="365.4" y2="289.78" stroke="#D0D0D0" stroke-width="0.8"/>
<text x="360.5" y="292.08" text-anchor="end" class="tk">2</text>
<line x1="363.4" y1="258.92" x2="365.4" y2="258.92" stroke="#D0D0D0" stroke-width="0.8"/>
<text x="360.5" y="261.22" text-anchor="end" class="tk">3</text>
<line x1="363.4" y1="228.06" x2="365.4" y2="228.06" stroke="#D0D0D0" stroke-width="0.8"/>
<text x="360.5" y="230.36" text-anchor="end" class="tk">4</text>
<line x1="363.4" y1="197.2" x2="365.4" y2="197.2" stroke="#D0D0D0" stroke-width="0.8"/>
<text x="360.5" y="199.5" text-anchor="end" class="tk">5</text>
<line x1="376.19" y1="351.5" x2="376.19" y2="353.5" stroke="#D0D0D0" stroke-width="0.8"/>
<line x1="386.98" y1="351.5" x2="386.98" y2="353.5" stroke="#D0D0D0" stroke-width="0.8"/>
<line x1="397.77" y1="351.5" x2="397.77" y2="353.5" stroke="#D0D0D0" stroke-width="0.8"/>
<line x1="408.56" y1="351.5" x2="408.56" y2="353.5" stroke="#D0D0D0" stroke-width="0.8"/>
<line x1="419.35" y1="351.5" x2="419.35" y2="353.5" stroke="#D0D0D0" stroke-width="0.8"/>
<line x1="430.14" y1="351.5" x2="430.14" y2="353.5" stroke="#D0D0D0" stroke-width="0.8"/>
<line x1="440.93" y1="351.5" x2="440.93" y2="353.5" stroke="#D0D0D0" stroke-width="0.8"/>
<line x1="451.72" y1="351.5" x2="451.72" y2="353.5" stroke="#D0D0D0" stroke-width="0.8"/>
<line x1="462.51" y1="351.5" x2="462.51" y2="353.5" stroke="#D0D0D0" stroke-width="0.8"/>
<line x1="473.29" y1="351.5" x2="473.29" y2="353.5" stroke="#D0D0D0" stroke-width="0.8"/>
<line x1="484.08" y1="351.5" x2="484.08" y2="353.5" stroke="#D0D0D0" stroke-width="0.8"/>
<line x1="494.87" y1="351.5" x2="494.87" y2="353.5" stroke="#D0D0D0" stroke-width="0.8"/>
<line x1="505.66" y1="351.5" x2="505.66" y2="353.5" stroke="#D0D0D0" stroke-width="0.8"/>
<line x1="516.45" y1="351.5" x2="516.45" y2="353.5" stroke="#D0D0D0" stroke-width="0.8"/>
<line x1="527.24" y1="351.5" x2="527.24" y2="353.5" stroke="#D0D0D0" stroke-width="0.8"/>
<line x1="538.03" y1="351.5" x2="538.03" y2="353.5" stroke="#D0D0D0" stroke-width="0.8"/>
<line x1="548.82" y1="351.5" x2="548.82" y2="353.5" stroke="#D0D0D0" stroke-width="0.8"/>
<line x1="559.61" y1="351.5" x2="559.61" y2="353.5" stroke="#D0D0D0" stroke-width="0.8"/>
<line x1="570.39" y1="351.5" x2="570.39" y2="353.5" stroke="#D0D0D0" stroke-width="0.8"/>
<line x1="581.18" y1="351.5" x2="581.18" y2="353.5" stroke="#D0D0D0" stroke-width="0.8"/>
<line x1="591.97" y1="351.5" x2="591.97" y2="353.5" stroke="#D0D0D0" stroke-width="0.8"/>
<line x1="602.76" y1="351.5" x2="602.76" y2="353.5" stroke="#D0D0D0" stroke-width="0.8"/>
<line x1="613.55" y1="351.5" x2="613.55" y2="353.5" stroke="#D0D0D0" stroke-width="0.8"/>
<line x1="624.34" y1="351.5" x2="624.34" y2="353.5" stroke="#D0D0D0" stroke-width="0.8"/>
<line x1="635.13" y1="351.5" x2="635.13" y2="353.5" stroke="#D0D0D0" stroke-width="0.8"/>
<line x1="645.92" y1="351.5" x2="645.92" y2="353.5" stroke="#D0D0D0" stroke-width="0.8"/>
<line x1="656.71" y1="351.5" x2="656.71" y2="353.5" stroke="#D0D0D0" stroke-width="0.8"/>
<line x1="667.49" y1="351.5" x2="667.49" y2="353.5" stroke="#D0D0D0" stroke-width="0.8"/>
<rect x="367.7" y="332.7" width="3.1" height="18.8" fill="#4F81BD"/>
<rect x="370.8" y="329.1" width="3.1" height="22.4" fill="#C0504D"/>
<path d="M369.25 332.7V330.7M368.45 330.7H370.05" stroke="#A8A8A8" stroke-width="0.6" fill="none"/>
<path d="M372.35 329.1V326.7M371.55 326.7H373.15" stroke="#A8A8A8" stroke-width="0.6" fill="none"/>
<text x="370.8" y="361.8" text-anchor="middle" class="tk">1</text>
<rect x="378.49" y="322.2" width="3.1" height="29.3" fill="#4F81BD"/>
<rect x="381.59" y="310.9" width="3.1" height="40.6" fill="#C0504D"/>
<path d="M380.04 322.2V319.6M379.24 319.6H380.84" stroke="#A8A8A8" stroke-width="0.6" fill="none"/>
<path d="M383.14 310.9V308.4M382.34 308.4H383.94" stroke="#A8A8A8" stroke-width="0.6" fill="none"/>
<text x="381.59" y="361.8" text-anchor="middle" class="tk">2</text>
<rect x="389.28" y="305.2" width="3.1" height="46.3" fill="#4F81BD"/>
<rect x="392.38" y="302" width="3.1" height="49.5" fill="#C0504D"/>
<path d="M390.83 305.2V301.6M390.03 301.6H391.63" stroke="#A8A8A8" stroke-width="0.6" fill="none"/>
<path d="M393.93 302V298.4M393.13 298.4H394.73" stroke="#A8A8A8" stroke-width="0.6" fill="none"/>
<text x="392.38" y="361.8" text-anchor="middle" class="tk">3</text>
<rect x="400.07" y="316" width="3.1" height="35.5" fill="#4F81BD"/>
<rect x="403.17" y="310.8" width="3.1" height="40.7" fill="#C0504D"/>
<path d="M401.62 316V313.2M400.82 313.2H402.42" stroke="#A8A8A8" stroke-width="0.6" fill="none"/>
<path d="M404.72 310.8V308.2M403.92 308.2H405.52" stroke="#A8A8A8" stroke-width="0.6" fill="none"/>
<text x="403.17" y="361.8" text-anchor="middle" class="tk">4</text>
<rect x="410.86" y="327" width="3.1" height="24.5" fill="#4F81BD"/>
<rect x="413.96" y="322.9" width="3.1" height="28.6" fill="#C0504D"/>
<path d="M412.41 327V324.7M411.61 324.7H413.21" stroke="#A8A8A8" stroke-width="0.6" fill="none"/>
<path d="M415.51 322.9V320.7M414.71 320.7H416.31" stroke="#A8A8A8" stroke-width="0.6" fill="none"/>
<text x="413.96" y="361.8" text-anchor="middle" class="tk">5</text>
<rect x="421.64" y="333.1" width="3.1" height="18.4" fill="#4F81BD"/>
<rect x="424.74" y="327.9" width="3.1" height="23.6" fill="#C0504D"/>
<path d="M423.19 333.1V331.5M422.39 331.5H423.99" stroke="#A8A8A8" stroke-width="0.6" fill="none"/>
<path d="M426.29 327.9V326.4M425.49 326.4H427.09" stroke="#A8A8A8" stroke-width="0.6" fill="none"/>
<text x="424.74" y="361.8" text-anchor="middle" class="tk">6</text>
<rect x="432.43" y="334.9" width="3.1" height="16.6" fill="#4F81BD"/>
<rect x="435.53" y="333.3" width="3.1" height="18.2" fill="#C0504D"/>
<path d="M433.98 334.9V333.3M433.18 333.3H434.78" stroke="#A8A8A8" stroke-width="0.6" fill="none"/>
<path d="M437.08 333.3V331.9M436.28 331.9H437.88" stroke="#A8A8A8" stroke-width="0.6" fill="none"/>
<text x="435.53" y="361.8" text-anchor="middle" class="tk">7</text>
<rect x="443.22" y="336" width="3.1" height="15.5" fill="#4F81BD"/>
<rect x="446.32" y="336" width="3.1" height="15.5" fill="#C0504D"/>
<path d="M444.77 336V334.5M443.97 334.5H445.57" stroke="#A8A8A8" stroke-width="0.6" fill="none"/>
<path d="M447.87 336V334.5M447.07 334.5H448.67" stroke="#A8A8A8" stroke-width="0.6" fill="none"/>
<text x="446.32" y="361.8" text-anchor="middle" class="tk">8</text>
<rect x="454.01" y="336" width="3.1" height="15.5" fill="#4F81BD"/>
<rect x="457.11" y="333.2" width="3.1" height="18.3" fill="#C0504D"/>
<path d="M455.56 336V334.5M454.76 334.5H456.36" stroke="#A8A8A8" stroke-width="0.6" fill="none"/>
<path d="M458.66 333.2V331.7M457.86 331.7H459.46" stroke="#A8A8A8" stroke-width="0.6" fill="none"/>
<text x="457.11" y="361.8" text-anchor="middle" class="tk">9</text>
<rect x="464.8" y="336" width="3.1" height="15.5" fill="#4F81BD"/>
<rect x="467.9" y="336" width="3.1" height="15.5" fill="#C0504D"/>
<path d="M466.35 336V334.5M465.55 334.5H467.15" stroke="#A8A8A8" stroke-width="0.6" fill="none"/>
<path d="M469.45 336V334.5M468.65 334.5H470.25" stroke="#A8A8A8" stroke-width="0.6" fill="none"/>
<text x="467.9" y="361.8" text-anchor="middle" class="tk">10</text>
<rect x="475.59" y="336" width="3.1" height="15.5" fill="#4F81BD"/>
<rect x="478.69" y="333" width="3.1" height="18.5" fill="#C0504D"/>
<path d="M477.14 336V334.5M476.34 334.5H477.94" stroke="#A8A8A8" stroke-width="0.6" fill="none"/>
<path d="M480.24 333V331.5M479.44 331.5H481.04" stroke="#A8A8A8" stroke-width="0.6" fill="none"/>
<text x="478.69" y="361.8" text-anchor="middle" class="tk">11</text>
<rect x="486.38" y="336.6" width="3.1" height="14.9" fill="#4F81BD"/>
<rect x="489.48" y="336" width="3.1" height="15.5" fill="#C0504D"/>
<path d="M487.93 336.6V335.1M487.13 335.1H488.73" stroke="#A8A8A8" stroke-width="0.6" fill="none"/>
<path d="M491.03 336V334.5M490.23 334.5H491.83" stroke="#A8A8A8" stroke-width="0.6" fill="none"/>
<text x="489.48" y="361.8" text-anchor="middle" class="tk">12</text>
<rect x="497.17" y="336.8" width="3.1" height="14.7" fill="#4F81BD"/>
<rect x="500.27" y="333.2" width="3.1" height="18.3" fill="#C0504D"/>
<path d="M498.72 336.8V335.3M497.92 335.3H499.52" stroke="#A8A8A8" stroke-width="0.6" fill="none"/>
<path d="M501.82 333.2V331.7M501.02 331.7H502.62" stroke="#A8A8A8" stroke-width="0.6" fill="none"/>
<text x="500.27" y="361.8" text-anchor="middle" class="tk">13</text>
<rect x="507.96" y="336.6" width="3.1" height="14.9" fill="#4F81BD"/>
<rect x="511.06" y="336" width="3.1" height="15.5" fill="#C0504D"/>
<path d="M509.51 336.6V335.1M508.71 335.1H510.31" stroke="#A8A8A8" stroke-width="0.6" fill="none"/>
<path d="M512.61 336V334.5M511.81 334.5H513.41" stroke="#A8A8A8" stroke-width="0.6" fill="none"/>
<text x="511.06" y="361.8" text-anchor="middle" class="tk">14</text>
<rect x="518.74" y="335.3" width="3.1" height="16.2" fill="#4F81BD"/>
<rect x="521.84" y="335.9" width="3.1" height="15.6" fill="#C0504D"/>
<path d="M520.29 335.3V334.1M519.49 334.1H521.09" stroke="#A8A8A8" stroke-width="0.6" fill="none"/>
<path d="M523.39 335.9V334.5M522.59 334.5H524.19" stroke="#A8A8A8" stroke-width="0.6" fill="none"/>
<text x="521.84" y="361.8" text-anchor="middle" class="tk">15</text>
<rect x="529.53" y="335.9" width="3.1" height="15.6" fill="#4F81BD"/>
<rect x="532.63" y="335.9" width="3.1" height="15.6" fill="#C0504D"/>
<path d="M531.08 335.9V334.4M530.28 334.4H531.88" stroke="#A8A8A8" stroke-width="0.6" fill="none"/>
<path d="M534.18 335.9V334.4M533.38 334.4H534.98" stroke="#A8A8A8" stroke-width="0.6" fill="none"/>
<text x="532.63" y="361.8" text-anchor="middle" class="tk">16</text>
<rect x="540.32" y="333.5" width="3.1" height="18" fill="#4F81BD"/>
<rect x="543.42" y="335" width="3.1" height="16.5" fill="#C0504D"/>
<path d="M541.87 333.5V332M541.07 332H542.67" stroke="#A8A8A8" stroke-width="0.6" fill="none"/>
<path d="M544.97 335V333.5M544.17 333.5H545.77" stroke="#A8A8A8" stroke-width="0.6" fill="none"/>
<text x="543.42" y="361.8" text-anchor="middle" class="tk">17</text>
<rect x="551.11" y="332.9" width="3.1" height="18.6" fill="#4F81BD"/>
<rect x="554.21" y="332.1" width="3.1" height="19.4" fill="#C0504D"/>
<path d="M552.66 332.9V331.4M551.86 331.4H553.46" stroke="#A8A8A8" stroke-width="0.6" fill="none"/>
<path d="M555.76 332.1V330.6M554.96 330.6H556.56" stroke="#A8A8A8" stroke-width="0.6" fill="none"/>
<text x="554.21" y="361.8" text-anchor="middle" class="tk">18</text>
<rect x="561.9" y="329.3" width="3.1" height="22.2" fill="#4F81BD"/>
<rect x="565" y="330.9" width="3.1" height="20.6" fill="#C0504D"/>
<path d="M563.45 329.3V327.8M562.65 327.8H564.25" stroke="#A8A8A8" stroke-width="0.6" fill="none"/>
<path d="M566.55 330.9V329.4M565.75 329.4H567.35" stroke="#A8A8A8" stroke-width="0.6" fill="none"/>
<text x="565" y="361.8" text-anchor="middle" class="tk">19</text>
<rect x="572.69" y="321.6" width="3.1" height="29.9" fill="#4F81BD"/>
<rect x="575.79" y="323" width="3.1" height="28.5" fill="#C0504D"/>
<path d="M574.24 321.6V320.1M573.44 320.1H575.04" stroke="#A8A8A8" stroke-width="0.6" fill="none"/>
<path d="M577.34 323V321.5M576.54 321.5H578.14" stroke="#A8A8A8" stroke-width="0.6" fill="none"/>
<text x="575.79" y="361.8" text-anchor="middle" class="tk">20</text>
<rect x="583.48" y="315" width="3.1" height="36.5" fill="#4F81BD"/>
<rect x="586.58" y="320.1" width="3.1" height="31.4" fill="#C0504D"/>
<path d="M585.03 315V313.2M584.23 313.2H585.83" stroke="#A8A8A8" stroke-width="0.6" fill="none"/>
<path d="M588.13 320.1V318.2M587.33 318.2H588.93" stroke="#A8A8A8" stroke-width="0.6" fill="none"/>
<text x="586.58" y="361.8" text-anchor="middle" class="tk">21</text>
<rect x="594.27" y="309.8" width="3.1" height="41.7" fill="#4F81BD"/>
<rect x="597.37" y="315" width="3.1" height="36.5" fill="#C0504D"/>
<path d="M595.82 309.8V306.3M595.02 306.3H596.62" stroke="#A8A8A8" stroke-width="0.6" fill="none"/>
<path d="M598.92 315V312.9M598.12 312.9H599.72" stroke="#A8A8A8" stroke-width="0.6" fill="none"/>
<text x="597.37" y="361.8" text-anchor="middle" class="tk">22</text>
<rect x="605.06" y="299.3" width="3.1" height="52.2" fill="#4F81BD"/>
<rect x="608.16" y="300.7" width="3.1" height="50.8" fill="#C0504D"/>
<path d="M606.61 299.3V296.1M605.81 296.1H607.41" stroke="#A8A8A8" stroke-width="0.6" fill="none"/>
<path d="M609.71 300.7V297.1M608.91 297.1H610.51" stroke="#A8A8A8" stroke-width="0.6" fill="none"/>
<text x="608.16" y="361.8" text-anchor="middle" class="tk">23</text>
<rect x="615.84" y="285.8" width="3.1" height="65.7" fill="#4F81BD"/>
<rect x="618.94" y="294.9" width="3.1" height="56.6" fill="#C0504D"/>
<path d="M617.39 285.8V281.4M616.59 281.4H618.19" stroke="#A8A8A8" stroke-width="0.6" fill="none"/>
<path d="M620.49 294.9V291.7M619.69 291.7H621.29" stroke="#A8A8A8" stroke-width="0.6" fill="none"/>
<text x="618.94" y="361.8" text-anchor="middle" class="tk">24</text>
<rect x="626.63" y="280" width="3.1" height="71.5" fill="#4F81BD"/>
<rect x="629.73" y="287.3" width="3.1" height="64.2" fill="#C0504D"/>
<path d="M628.18 280V272.9M627.38 272.9H628.98" stroke="#A8A8A8" stroke-width="0.6" fill="none"/>
<path d="M631.28 287.3V281.4M630.48 281.4H632.08" stroke="#A8A8A8" stroke-width="0.6" fill="none"/>
<text x="629.73" y="361.8" text-anchor="middle" class="tk">25</text>
<rect x="637.42" y="288.7" width="3.1" height="62.8" fill="#4F81BD"/>
<rect x="640.52" y="293.1" width="3.1" height="58.4" fill="#C0504D"/>
<path d="M638.97 288.7V284.3M638.17 284.3H639.77" stroke="#A8A8A8" stroke-width="0.6" fill="none"/>
<path d="M642.07 293.1V288.7M641.27 288.7H642.87" stroke="#A8A8A8" stroke-width="0.6" fill="none"/>
<text x="640.52" y="361.8" text-anchor="middle" class="tk">26</text>
<rect x="648.21" y="293.4" width="3.1" height="58.1" fill="#4F81BD"/>
<rect x="651.31" y="297.8" width="3.1" height="53.7" fill="#C0504D"/>
<path d="M649.76 293.4V289M648.96 289H650.56" stroke="#A8A8A8" stroke-width="0.6" fill="none"/>
<path d="M652.86 297.8V293.1M652.06 293.1H653.66" stroke="#A8A8A8" stroke-width="0.6" fill="none"/>
<text x="651.31" y="361.8" text-anchor="middle" class="tk">27</text>
<rect x="659" y="303.7" width="3.1" height="47.8" fill="#4F81BD"/>
<rect x="662.1" y="305.9" width="3.1" height="45.6" fill="#C0504D"/>
<path d="M660.55 303.7V300M659.75 300H661.35" stroke="#A8A8A8" stroke-width="0.6" fill="none"/>
<path d="M663.65 305.9V302.5M662.85 302.5H664.45" stroke="#A8A8A8" stroke-width="0.6" fill="none"/>
<text x="662.1" y="361.8" text-anchor="middle" class="tk">28</text>
<rect x="481.2" y="205.3" width="4" height="4" fill="#4F81BD"/>
<rect x="481.2" y="225.6" width="4" height="4" fill="#C0504D"/>
<text x="487.2" y="209.8" class="lg" style="font-size:10px">Left at Philips 3 T</text>
<text x="487.2" y="230.4" class="lg" style="font-size:10px">Right at Philips 3 T</text>
<text x="571" y="204.7" class="sup">a</text>
<text x="575.5" y="224.5" class="sup">a</text>
<text transform="translate(420.4 373.3) scale(1 0.92)" x="0" y="0" class="xt" style="font-size:10.15px">Location of fiber-optic temperature sensors</text>
<text transform="translate(352.1 320.7) rotate(-90)" x="0" y="0" class="yt">Temperature rise (℃)</text>
<text transform="translate(334.6 196.9) scale(0.93 1)" x="0" y="0" class="pl">D</text>
<line x1="33.2" y1="384.3" x2="33.2" y2="538.5" stroke="#D0D0D0" stroke-width="0.8"/>
<line x1="31.2" y1="538.5" x2="337.53" y2="538.5" stroke="#D0D0D0" stroke-width="0.8"/>
<line x1="31.2" y1="538.5" x2="33.2" y2="538.5" stroke="#D0D0D0" stroke-width="0.8"/>
<text x="28.3" y="540.8" text-anchor="end" class="tk">0</text>
<line x1="31.2" y1="507.66" x2="33.2" y2="507.66" stroke="#D0D0D0" stroke-width="0.8"/>
<text x="28.3" y="509.96" text-anchor="end" class="tk">1</text>
<line x1="31.2" y1="476.82" x2="33.2" y2="476.82" stroke="#D0D0D0" stroke-width="0.8"/>
<text x="28.3" y="479.12" text-anchor="end" class="tk">2</text>
<line x1="31.2" y1="445.98" x2="33.2" y2="445.98" stroke="#D0D0D0" stroke-width="0.8"/>
<text x="28.3" y="448.28" text-anchor="end" class="tk">3</text>
<line x1="31.2" y1="415.14" x2="33.2" y2="415.14" stroke="#D0D0D0" stroke-width="0.8"/>
<text x="28.3" y="417.44" text-anchor="end" class="tk">4</text>
<line x1="31.2" y1="384.3" x2="33.2" y2="384.3" stroke="#D0D0D0" stroke-width="0.8"/>
<text x="28.3" y="386.6" text-anchor="end" class="tk">5</text>
<line x1="44.23" y1="538.5" x2="44.23" y2="540.5" stroke="#D0D0D0" stroke-width="0.8"/>
<line x1="55.09" y1="538.5" x2="55.09" y2="540.5" stroke="#D0D0D0" stroke-width="0.8"/>
<line x1="65.96" y1="538.5" x2="65.96" y2="540.5" stroke="#D0D0D0" stroke-width="0.8"/>
<line x1="76.82" y1="538.5" x2="76.82" y2="540.5" stroke="#D0D0D0" stroke-width="0.8"/>
<line x1="87.68" y1="538.5" x2="87.68" y2="540.5" stroke="#D0D0D0" stroke-width="0.8"/>
<line x1="98.55" y1="538.5" x2="98.55" y2="540.5" stroke="#D0D0D0" stroke-width="0.8"/>
<line x1="109.41" y1="538.5" x2="109.41" y2="540.5" stroke="#D0D0D0" stroke-width="0.8"/>
<line x1="120.27" y1="538.5" x2="120.27" y2="540.5" stroke="#D0D0D0" stroke-width="0.8"/>
<line x1="131.14" y1="538.5" x2="131.14" y2="540.5" stroke="#D0D0D0" stroke-width="0.8"/>
<line x1="142" y1="538.5" x2="142" y2="540.5" stroke="#D0D0D0" stroke-width="0.8"/>
<line x1="152.86" y1="538.5" x2="152.86" y2="540.5" stroke="#D0D0D0" stroke-width="0.8"/>
<line x1="163.72" y1="538.5" x2="163.72" y2="540.5" stroke="#D0D0D0" stroke-width="0.8"/>
<line x1="174.59" y1="538.5" x2="174.59" y2="540.5" stroke="#D0D0D0" stroke-width="0.8"/>
<line x1="185.45" y1="538.5" x2="185.45" y2="540.5" stroke="#D0D0D0" stroke-width="0.8"/>
<line x1="196.31" y1="538.5" x2="196.31" y2="540.5" stroke="#D0D0D0" stroke-width="0.8"/>
<line x1="207.18" y1="538.5" x2="207.18" y2="540.5" stroke="#D0D0D0" stroke-width="0.8"/>
<line x1="218.04" y1="538.5" x2="218.04" y2="540.5" stroke="#D0D0D0" stroke-width="0.8"/>
<line x1="228.9" y1="538.5" x2="228.9" y2="540.5" stroke="#D0D0D0" stroke-width="0.8"/>
<line x1="239.76" y1="538.5" x2="239.76" y2="540.5" stroke="#D0D0D0" stroke-width="0.8"/>
<line x1="250.63" y1="538.5" x2="250.63" y2="540.5" stroke="#D0D0D0" stroke-width="0.8"/>
<line x1="261.49" y1="538.5" x2="261.49" y2="540.5" stroke="#D0D0D0" stroke-width="0.8"/>
<line x1="272.35" y1="538.5" x2="272.35" y2="540.5" stroke="#D0D0D0" stroke-width="0.8"/>
<line x1="283.22" y1="538.5" x2="283.22" y2="540.5" stroke="#D0D0D0" stroke-width="0.8"/>
<line x1="294.08" y1="538.5" x2="294.08" y2="540.5" stroke="#D0D0D0" stroke-width="0.8"/>
<line x1="304.94" y1="538.5" x2="304.94" y2="540.5" stroke="#D0D0D0" stroke-width="0.8"/>
<line x1="315.81" y1="538.5" x2="315.81" y2="540.5" stroke="#D0D0D0" stroke-width="0.8"/>
<line x1="326.67" y1="538.5" x2="326.67" y2="540.5" stroke="#D0D0D0" stroke-width="0.8"/>
<line x1="337.53" y1="538.5" x2="337.53" y2="540.5" stroke="#D0D0D0" stroke-width="0.8"/>
<rect x="35.7" y="514.1" width="3.1" height="24.4" fill="#4F81BD"/>
<rect x="38.8" y="513.9" width="3.1" height="24.6" fill="#C0504D"/>
<path d="M37.25 514.1V512.6M36.45 512.6H38.05" stroke="#A8A8A8" stroke-width="0.6" fill="none"/>
<path d="M40.35 513.9V512.4M39.55 512.4H41.15" stroke="#A8A8A8" stroke-width="0.6" fill="none"/>
<text x="38.8" y="548.8" text-anchor="middle" class="tk">1</text>
<rect x="46.56" y="498.2" width="3.1" height="40.3" fill="#4F81BD"/>
<rect x="49.66" y="500" width="3.1" height="38.5" fill="#C0504D"/>
<path d="M48.11 498.2V496.2M47.31 496.2H48.91" stroke="#A8A8A8" stroke-width="0.6" fill="none"/>
<path d="M51.21 500V498M50.41 498H52.01" stroke="#A8A8A8" stroke-width="0.6" fill="none"/>
<text x="49.66" y="548.8" text-anchor="middle" class="tk">2</text>
<rect x="57.43" y="492" width="3.1" height="46.5" fill="#4F81BD"/>
<rect x="60.53" y="494.4" width="3.1" height="44.1" fill="#C0504D"/>
<path d="M58.98 492V488.4M58.18 488.4H59.78" stroke="#A8A8A8" stroke-width="0.6" fill="none"/>
<path d="M62.08 494.4V491M61.28 491H62.88" stroke="#A8A8A8" stroke-width="0.6" fill="none"/>
<text x="60.53" y="548.8" text-anchor="middle" class="tk">3</text>
<rect x="68.29" y="501.9" width="3.1" height="36.6" fill="#4F81BD"/>
<rect x="71.39" y="504" width="3.1" height="34.5" fill="#C0504D"/>
<path d="M69.84 501.9V499.2M69.04 499.2H70.64" stroke="#A8A8A8" stroke-width="0.6" fill="none"/>
<path d="M72.94 504V501.3M72.14 501.3H73.74" stroke="#A8A8A8" stroke-width="0.6" fill="none"/>
<text x="71.39" y="548.8" text-anchor="middle" class="tk">4</text>
<rect x="79.15" y="507.9" width="3.1" height="30.6" fill="#4F81BD"/>
<rect x="82.25" y="510.2" width="3.1" height="28.3" fill="#C0504D"/>
<path d="M80.7 507.9V506.1M79.9 506.1H81.5" stroke="#A8A8A8" stroke-width="0.6" fill="none"/>
<path d="M83.8 510.2V508.5M83 508.5H84.6" stroke="#A8A8A8" stroke-width="0.6" fill="none"/>
<text x="82.25" y="548.8" text-anchor="middle" class="tk">5</text>
<rect x="90.01" y="510.2" width="3.1" height="28.3" fill="#4F81BD"/>
<rect x="93.11" y="512.1" width="3.1" height="26.4" fill="#C0504D"/>
<path d="M91.56 510.2V509.1M90.76 509.1H92.36" stroke="#A8A8A8" stroke-width="0.6" fill="none"/>
<path d="M94.66 512.1V510.9M93.86 510.9H95.46" stroke="#A8A8A8" stroke-width="0.6" fill="none"/>
<text x="93.11" y="548.8" text-anchor="middle" class="tk">6</text>
<rect x="100.88" y="512.6" width="3.1" height="25.9" fill="#4F81BD"/>
<rect x="103.98" y="514.1" width="3.1" height="24.4" fill="#C0504D"/>
<path d="M102.43 512.6V511.4M101.63 511.4H103.23" stroke="#A8A8A8" stroke-width="0.6" fill="none"/>
<path d="M105.53 514.1V512.9M104.73 512.9H106.33" stroke="#A8A8A8" stroke-width="0.6" fill="none"/>
<text x="103.98" y="548.8" text-anchor="middle" class="tk">7</text>
<rect x="111.74" y="514.9" width="3.1" height="23.6" fill="#4F81BD"/>
<rect x="114.84" y="515.8" width="3.1" height="22.7" fill="#C0504D"/>
<path d="M113.29 514.9V513.4M112.49 513.4H114.09" stroke="#A8A8A8" stroke-width="0.6" fill="none"/>
<path d="M116.39 515.8V514.3M115.59 514.3H117.19" stroke="#A8A8A8" stroke-width="0.6" fill="none"/>
<text x="114.84" y="548.8" text-anchor="middle" class="tk">8</text>
<rect x="122.6" y="517" width="3.1" height="21.5" fill="#4F81BD"/>
<rect x="125.7" y="517.9" width="3.1" height="20.6" fill="#C0504D"/>
<path d="M124.15 517V515.5M123.35 515.5H124.95" stroke="#A8A8A8" stroke-width="0.6" fill="none"/>
<path d="M127.25 517.9V516.4M126.45 516.4H128.05" stroke="#A8A8A8" stroke-width="0.6" fill="none"/>
<text x="125.7" y="548.8" text-anchor="middle" class="tk">9</text>
<rect x="133.47" y="518.5" width="3.1" height="20" fill="#4F81BD"/>
<rect x="136.57" y="520" width="3.1" height="18.5" fill="#C0504D"/>
<path d="M135.02 518.5V517M134.22 517H135.82" stroke="#A8A8A8" stroke-width="0.6" fill="none"/>
<path d="M138.12 520V518.5M137.32 518.5H138.92" stroke="#A8A8A8" stroke-width="0.6" fill="none"/>
<text x="136.57" y="548.8" text-anchor="middle" class="tk">10</text>
<rect x="144.33" y="520" width="3.1" height="18.5" fill="#4F81BD"/>
<rect x="147.43" y="521.2" width="3.1" height="17.3" fill="#C0504D"/>
<path d="M145.88 520V518.5M145.08 518.5H146.68" stroke="#A8A8A8" stroke-width="0.6" fill="none"/>
<path d="M148.98 521.2V519.7M148.18 519.7H149.78" stroke="#A8A8A8" stroke-width="0.6" fill="none"/>
<text x="147.43" y="548.8" text-anchor="middle" class="tk">11</text>
<rect x="155.19" y="521.2" width="3.1" height="17.3" fill="#4F81BD"/>
<rect x="158.29" y="522.4" width="3.1" height="16.1" fill="#C0504D"/>
<path d="M156.74 521.2V519.7M155.94 519.7H157.54" stroke="#A8A8A8" stroke-width="0.6" fill="none"/>
<path d="M159.84 522.4V520.9M159.04 520.9H160.64" stroke="#A8A8A8" stroke-width="0.6" fill="none"/>
<text x="158.29" y="548.8" text-anchor="middle" class="tk">12</text>
<rect x="166.06" y="522" width="3.1" height="16.5" fill="#4F81BD"/>
<rect x="169.16" y="523" width="3.1" height="15.5" fill="#C0504D"/>
<path d="M167.61 522V520.5M166.81 520.5H168.41" stroke="#A8A8A8" stroke-width="0.6" fill="none"/>
<path d="M170.71 523V521.5M169.91 521.5H171.51" stroke="#A8A8A8" stroke-width="0.6" fill="none"/>
<text x="169.16" y="548.8" text-anchor="middle" class="tk">13</text>
<rect x="176.92" y="522" width="3.1" height="16.5" fill="#4F81BD"/>
<rect x="180.02" y="523" width="3.1" height="15.5" fill="#C0504D"/>
<path d="M178.47 522V520.5M177.67 520.5H179.27" stroke="#A8A8A8" stroke-width="0.6" fill="none"/>
<path d="M181.57 523V521.5M180.77 521.5H182.37" stroke="#A8A8A8" stroke-width="0.6" fill="none"/>
<text x="180.02" y="548.8" text-anchor="middle" class="tk">14</text>
<rect x="187.78" y="522.3" width="3.1" height="16.2" fill="#4F81BD"/>
<rect x="190.88" y="522.9" width="3.1" height="15.6" fill="#C0504D"/>
<path d="M189.33 522.3V520.8M188.53 520.8H190.13" stroke="#A8A8A8" stroke-width="0.6" fill="none"/>
<path d="M192.43 522.9V521.4M191.63 521.4H193.23" stroke="#A8A8A8" stroke-width="0.6" fill="none"/>
<text x="190.88" y="548.8" text-anchor="middle" class="tk">15</text>
<rect x="198.64" y="521.4" width="3.1" height="17.1" fill="#4F81BD"/>
<rect x="201.74" y="522.1" width="3.1" height="16.4" fill="#C0504D"/>
<path d="M200.19 521.4V519.9M199.39 519.9H200.99" stroke="#A8A8A8" stroke-width="0.6" fill="none"/>
<path d="M203.29 522.1V520.6M202.49 520.6H204.09" stroke="#A8A8A8" stroke-width="0.6" fill="none"/>
<text x="201.74" y="548.8" text-anchor="middle" class="tk">16</text>
<rect x="209.51" y="520.2" width="3.1" height="18.3" fill="#4F81BD"/>
<rect x="212.61" y="521.1" width="3.1" height="17.4" fill="#C0504D"/>
<path d="M211.06 520.2V518.7M210.26 518.7H211.86" stroke="#A8A8A8" stroke-width="0.6" fill="none"/>
<path d="M214.16 521.1V519.6M213.36 519.6H214.96" stroke="#A8A8A8" stroke-width="0.6" fill="none"/>
<text x="212.61" y="548.8" text-anchor="middle" class="tk">17</text>
<rect x="220.37" y="519" width="3.1" height="19.5" fill="#4F81BD"/>
<rect x="223.47" y="520.2" width="3.1" height="18.3" fill="#C0504D"/>
<path d="M221.92 519V517.5M221.12 517.5H222.72" stroke="#A8A8A8" stroke-width="0.6" fill="none"/>
<path d="M225.02 520.2V518.7M224.22 518.7H225.82" stroke="#A8A8A8" stroke-width="0.6" fill="none"/>
<text x="223.47" y="548.8" text-anchor="middle" class="tk">18</text>
<rect x="231.23" y="514.9" width="3.1" height="23.6" fill="#4F81BD"/>
<rect x="234.33" y="515.7" width="3.1" height="22.8" fill="#C0504D"/>
<path d="M232.78 514.9V513.4M231.98 513.4H233.58" stroke="#A8A8A8" stroke-width="0.6" fill="none"/>
<path d="M235.88 515.7V514.2M235.08 514.2H236.68" stroke="#A8A8A8" stroke-width="0.6" fill="none"/>
<text x="234.33" y="548.8" text-anchor="middle" class="tk">19</text>
<rect x="242.1" y="509.5" width="3.1" height="29" fill="#4F81BD"/>
<rect x="245.2" y="513.4" width="3.1" height="25.1" fill="#C0504D"/>
<path d="M243.65 509.5V507.4M242.85 507.4H244.45" stroke="#A8A8A8" stroke-width="0.6" fill="none"/>
<path d="M246.75 513.4V511.6M245.95 511.6H247.55" stroke="#A8A8A8" stroke-width="0.6" fill="none"/>
<text x="245.2" y="548.8" text-anchor="middle" class="tk">20</text>
<rect x="252.96" y="506.8" width="3.1" height="31.7" fill="#4F81BD"/>
<rect x="256.06" y="510.1" width="3.1" height="28.4" fill="#C0504D"/>
<path d="M254.51 506.8V504.4M253.71 504.4H255.31" stroke="#A8A8A8" stroke-width="0.6" fill="none"/>
<path d="M257.61 510.1V508.6M256.81 508.6H258.41" stroke="#A8A8A8" stroke-width="0.6" fill="none"/>
<text x="256.06" y="548.8" text-anchor="middle" class="tk">21</text>
<rect x="263.82" y="497.7" width="3.1" height="40.8" fill="#4F81BD"/>
<rect x="266.92" y="504.9" width="3.1" height="33.6" fill="#C0504D"/>
<path d="M265.37 497.7V495.5M264.57 495.5H266.17" stroke="#A8A8A8" stroke-width="0.6" fill="none"/>
<path d="M268.47 504.9V502.7M267.67 502.7H269.27" stroke="#A8A8A8" stroke-width="0.6" fill="none"/>
<text x="266.92" y="548.8" text-anchor="middle" class="tk">22</text>
<rect x="274.69" y="485" width="3.1" height="53.5" fill="#4F81BD"/>
<rect x="277.79" y="491" width="3.1" height="47.5" fill="#C0504D"/>
<path d="M276.24 485V481.2M275.44 481.2H277.04" stroke="#A8A8A8" stroke-width="0.6" fill="none"/>
<path d="M279.34 491V488M278.54 488H280.14" stroke="#A8A8A8" stroke-width="0.6" fill="none"/>
<text x="277.79" y="548.8" text-anchor="middle" class="tk">23</text>
<rect x="285.55" y="474.8" width="3.1" height="63.7" fill="#4F81BD"/>
<rect x="288.65" y="486" width="3.1" height="52.5" fill="#C0504D"/>
<path d="M287.1 474.8V470M286.3 470H287.9" stroke="#A8A8A8" stroke-width="0.6" fill="none"/>
<path d="M290.2 486V482.4M289.4 482.4H291" stroke="#A8A8A8" stroke-width="0.6" fill="none"/>
<text x="288.65" y="548.8" text-anchor="middle" class="tk">24</text>
<rect x="296.41" y="468.2" width="3.1" height="70.3" fill="#4F81BD"/>
<rect x="299.51" y="481.2" width="3.1" height="57.3" fill="#C0504D"/>
<path d="M297.96 468.2V461.7M297.16 461.7H298.76" stroke="#A8A8A8" stroke-width="0.6" fill="none"/>
<path d="M301.06 481.2V476M300.26 476H301.86" stroke="#A8A8A8" stroke-width="0.6" fill="none"/>
<text x="299.51" y="548.8" text-anchor="middle" class="tk">25</text>
<rect x="307.27" y="479.3" width="3.1" height="59.2" fill="#4F81BD"/>
<rect x="310.37" y="488.3" width="3.1" height="50.2" fill="#C0504D"/>
<path d="M308.82 479.3V474.9M308.02 474.9H309.62" stroke="#A8A8A8" stroke-width="0.6" fill="none"/>
<path d="M311.92 488.3V484.7M311.12 484.7H312.72" stroke="#A8A8A8" stroke-width="0.6" fill="none"/>
<text x="310.37" y="548.8" text-anchor="middle" class="tk">26</text>
<rect x="318.14" y="481.7" width="3.1" height="56.8" fill="#4F81BD"/>
<rect x="321.24" y="494.7" width="3.1" height="43.8" fill="#C0504D"/>
<path d="M319.69 481.7V477.2M318.89 477.2H320.49" stroke="#A8A8A8" stroke-width="0.6" fill="none"/>
<path d="M322.79 494.7V491M321.99 491H323.59" stroke="#A8A8A8" stroke-width="0.6" fill="none"/>
<text x="321.24" y="548.8" text-anchor="middle" class="tk">27</text>
<rect x="329" y="486.9" width="3.1" height="51.6" fill="#4F81BD"/>
<rect x="332.1" y="495.8" width="3.1" height="42.7" fill="#C0504D"/>
<path d="M330.55 486.9V483.5M329.75 483.5H331.35" stroke="#A8A8A8" stroke-width="0.6" fill="none"/>
<path d="M333.65 495.8V493.2M332.85 493.2H334.45" stroke="#A8A8A8" stroke-width="0.6" fill="none"/>
<text x="332.1" y="548.8" text-anchor="middle" class="tk">28</text>
<rect x="150.3" y="392.7" width="4" height="4" fill="#4F81BD"/>
<rect x="150.3" y="413" width="4" height="4" fill="#C0504D"/>
<text x="156.3" y="397.4" class="lg" style="font-size:10px">Left at Philips 3 T</text>
<text x="156.3" y="417.9" class="lg" style="font-size:10px">Right at Philips 3 T</text>
<text x="238.8" y="394.5" class="sup">b</text>
<text x="242.8" y="415.7" class="sup">b</text>
<text transform="translate(88.6 560) scale(1 0.92)" x="0" y="0" class="xt" style="font-size:10.2px">Location of fiber-optic temperature sensors</text>
<text transform="translate(20 507.3) rotate(-90)" x="0" y="0" class="yt">Temperature rise (℃)</text>
<text transform="translate(5 382.3) scale(0.66 1)" x="0" y="0" class="pl">E</text>
<line x1="0" y1="565.5" x2="338" y2="565.5" stroke="#E6E6E6" stroke-width="1"/>
</svg>
</body></html>
